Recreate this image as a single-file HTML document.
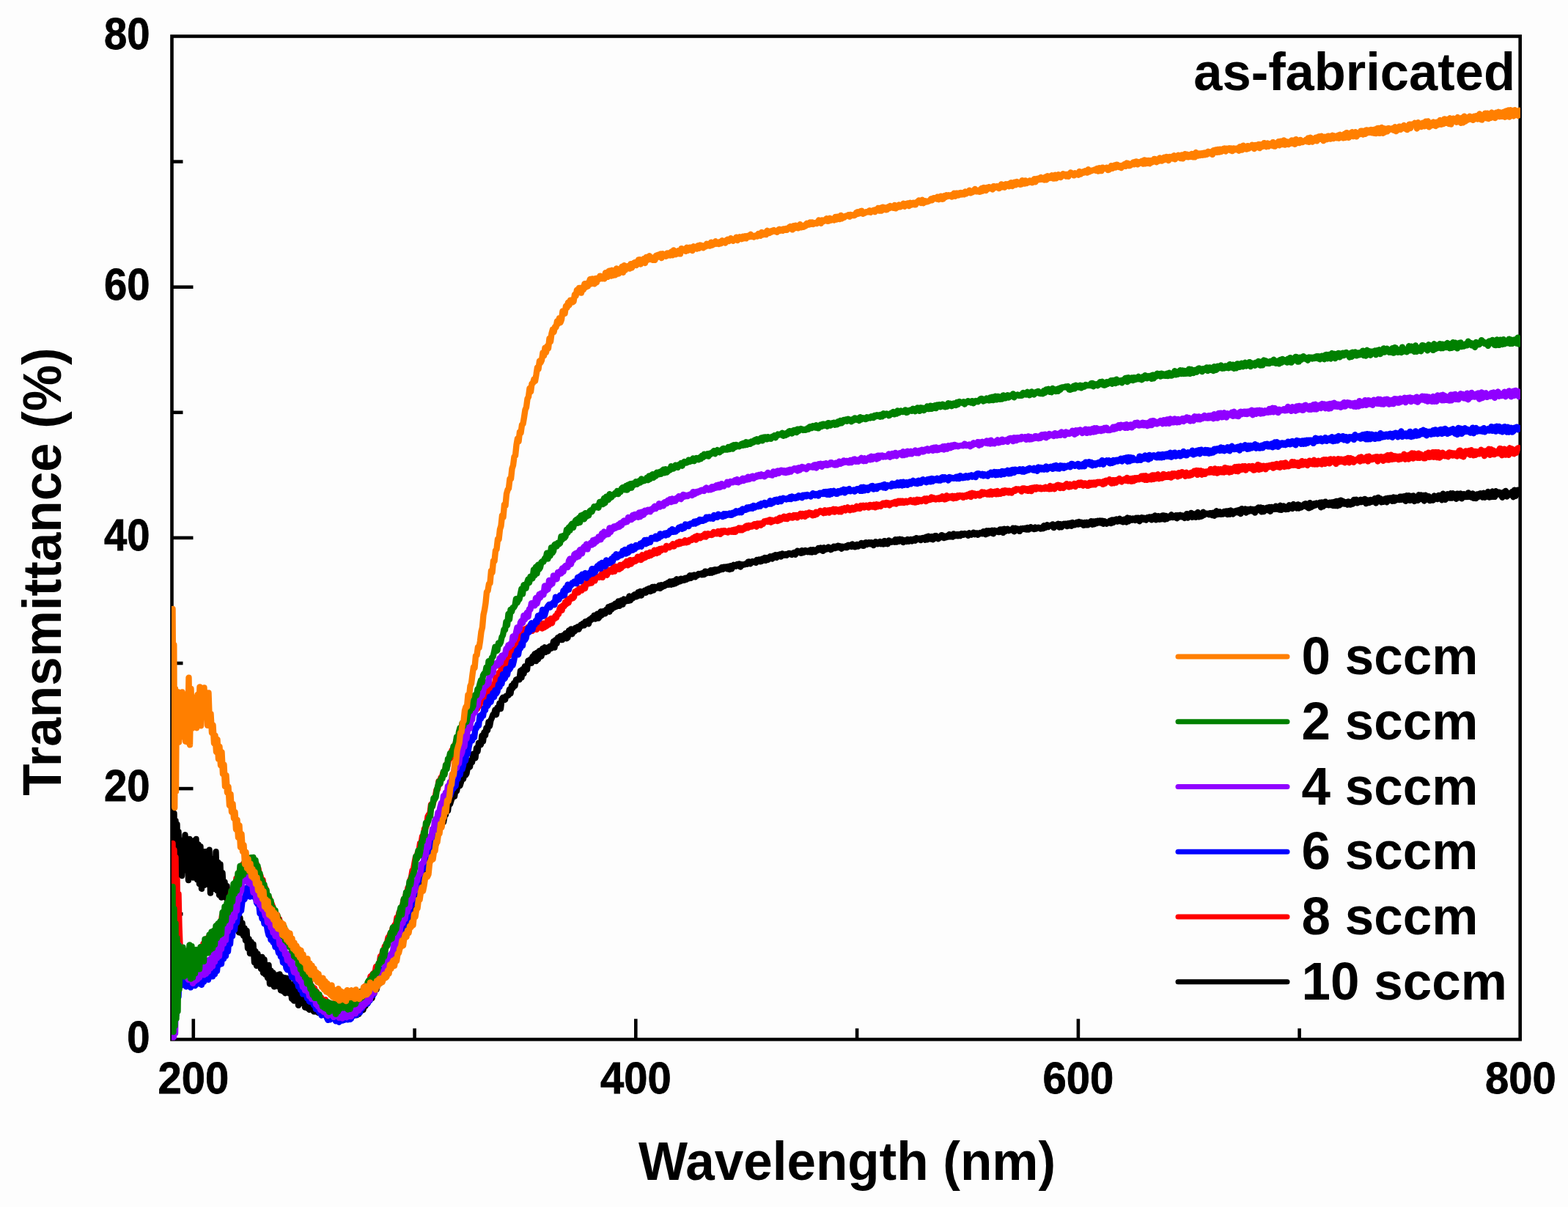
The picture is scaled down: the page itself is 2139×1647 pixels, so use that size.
<!DOCTYPE html>
<html><head><meta charset="utf-8"><style>
html,body{margin:0;padding:0;background:#fdfdfd;}
svg{display:block}
</style></head><body>
<svg width="2139" height="1647" viewBox="0 0 2139 1647">
<rect width="2139" height="1647" fill="#fdfdfd"/>
<g stroke="#000" stroke-width="4.6" fill="none">
<rect x="234.5" y="49.5" width="1839.2" height="1368.8" stroke-linejoin="miter"/>
<line x1="234.5" y1="1247.2" x2="249.5" y2="1247.2"/>
<line x1="234.5" y1="1076.1" x2="263.5" y2="1076.1"/>
<line x1="234.5" y1="905.0" x2="249.5" y2="905.0"/>
<line x1="234.5" y1="733.9" x2="263.5" y2="733.9"/>
<line x1="234.5" y1="562.8" x2="249.5" y2="562.8"/>
<line x1="234.5" y1="391.7" x2="263.5" y2="391.7"/>
<line x1="234.5" y1="220.6" x2="249.5" y2="220.6"/>
<line x1="263.8" y1="1418.3" x2="263.8" y2="1390.3"/>
<line x1="565.6" y1="1418.3" x2="565.6" y2="1403.3"/>
<line x1="867.3" y1="1418.3" x2="867.3" y2="1390.3"/>
<line x1="1169.1" y1="1418.3" x2="1169.1" y2="1403.3"/>
<line x1="1470.9" y1="1418.3" x2="1470.9" y2="1390.3"/>
<line x1="1772.6" y1="1418.3" x2="1772.6" y2="1403.3"/>
</g>
<defs><clipPath id="pc"><rect x="234" y="40" width="1840" height="1379.5"/></clipPath></defs>
<g clip-path="url(#pc)" fill="none" stroke-width="8.4" stroke-linejoin="round" stroke-linecap="round">
<path d="M234.8 1150.0L235.5 1095.0 236.5 1180.0 237.5 1110.0 238.5 1209.0 239.5 1120.0 240.5 1200.0 241.5 1125.0 242.5 1195.0 243.5 1135.0 244.5 1190.0 245.0 1186.7 246.5 1146.8 248.0 1195.0 249.5 1155.1 251.0 1187.0 252.5 1139.3 254.0 1185.6 255.5 1153.3 257.0 1201.1 258.5 1144.9 260.0 1191.4 261.5 1147.5 263.0 1197.5 264.5 1152.7 266.0 1189.4 267.5 1145.0 269.0 1200.5 270.5 1152.4 272.0 1206.3 273.5 1155.3 275.0 1212.8 276.5 1164.7 278.0 1208.1 279.5 1162.1 281.0 1206.5 282.5 1161.9 284.0 1206.0 285.5 1159.7 287.0 1218.6 288.5 1173.1 290.0 1213.1 291.5 1171.9 293.0 1207.7 294.5 1162.3 296.0 1215.1 297.5 1177.0 299.0 1221.4 300.5 1179.5 302.0 1224.6 303.5 1191.3 305.0 1216.3 306.5 1203.3 308.0 1225.0 309.5 1208.9 311.0 1237.2 312.5 1215.7 314.0 1241.4 315.5 1230.1 317.0 1248.2 318.5 1230.3 320.0 1257.5 321.5 1239.7 323.0 1260.8 324.5 1251.0 326.0 1272.4 327.5 1252.7 329.0 1273.4 330.5 1259.5 332.0 1276.7 333.5 1266.4 335.0 1283.4 336.5 1269.8 338.0 1294.1 339.5 1281.1 341.0 1301.1 342.5 1285.5 344.0 1301.5 345.5 1288.5 347.0 1313.3 348.5 1298.3 350.0 1317.7 351.5 1301.6 353.0 1316.7 354.5 1306.7 356.0 1322.1 357.5 1306.0 359.0 1327.5 360.5 1309.4 362.0 1329.8 363.5 1317.3 365.0 1334.2 366.5 1316.9 368.0 1342.6 369.5 1324.8 371.0 1342.2 372.5 1327.4 374.0 1346.3 375.5 1331.2 377.0 1343.5 378.5 1330.5 380.0 1346.3 381.5 1329.5 383.0 1351.4 384.5 1333.3 386.0 1352.6 387.5 1334.2 389.0 1355.2 390.5 1334.7 392.0 1353.2 393.5 1339.0 395.0 1355.7 396.5 1343.1 398.0 1362.7 399.5 1343.3 401.0 1365.6 402.5 1351.8 404.0 1365.8 405.5 1353.5 407.0 1371.9 408.5 1355.6 410.0 1368.9 411.5 1355.9 413.0 1369.3 414.5 1354.4 416.0 1374.5 417.5 1360.6 419.0 1375.5 420.5 1363.1 422.0 1377.8 423.5 1364.5 425.0 1376.1 426.5 1367.3 428.0 1380.3 429.5 1366.8 431.0 1380.4 432.5 1368.9 434.0 1381.8 435.5 1375.6 437.0 1381.5 438.5 1380.2 440.0 1375.1 441.5 1373.5 443.0 1381.6 444.5 1386.0 446.0 1378.1 447.5 1387.8 449.0 1377.1 450.5 1385.7 452.0 1381.8 453.5 1387.6 455.0 1382.7 456.5 1389.8 458.0 1381.4 459.5 1391.0 461.0 1380.6 462.5 1389.9 464.0 1382.2 465.5 1392.2 467.0 1383.2 468.5 1386.5 470.0 1380.2 471.5 1389.7 473.0 1390.2 474.5 1380.7 476.0 1389.7 477.5 1383.0 479.0 1379.5 480.5 1387.1 482.0 1379.5 483.5 1382.8 485.0 1375.9 486.5 1385.2 488.0 1373.8 489.5 1383.7 491.0 1376.3 492.5 1379.5 494.0 1370.1 495.5 1378.1 497.0 1369.5 498.5 1372.9 500.0 1365.0 501.5 1369.2 503.0 1363.8 504.5 1363.8 506.0 1358.8 507.5 1362.2 509.0 1352.4 510.5 1355.7 512.0 1345.7 513.5 1350.5 515.0 1340.7 516.5 1341.4 518.0 1342.0 519.5 1336.1 521.0 1336.0 522.5 1327.5 524.0 1329.7 525.5 1323.5 527.0 1318.5 528.5 1325.8 530.0 1320.6 531.5 1312.8 533.0 1315.8 534.5 1305.6 536.0 1301.5 537.5 1304.9 539.0 1305.7 540.5 1301.3 542.0 1292.1 543.5 1293.4 545.0 1285.8 546.5 1287.6 548.0 1275.3 549.5 1280.1 551.0 1267.7 552.5 1271.3 554.0 1261.3 555.5 1262.0 557.0 1253.9 558.5 1255.5 560.0 1253.2 561.5 1248.4 563.0 1236.1 564.5 1237.8 566.0 1226.0 567.5 1227.0 569.0 1217.5 570.5 1219.9 572.0 1211.5 573.5 1212.3 575.0 1199.1 576.5 1204.6 578.0 1194.8 579.5 1193.1 581.0 1185.8 582.5 1185.2 584.0 1173.4 585.5 1176.2 587.0 1169.9 588.5 1168.6 590.0 1161.1 591.5 1161.5 593.0 1147.3 594.5 1152.5 596.0 1142.0 597.5 1134.6 599.0 1129.8 600.5 1129.3 602.0 1128.2 603.5 1118.2 605.0 1121.9 606.5 1113.7 608.0 1111.8 609.5 1102.7 611.0 1106.4 612.5 1094.9 614.0 1097.2 615.5 1092.3 617.0 1088.3 618.5 1084.5 620.0 1086.8 621.5 1077.2 623.0 1079.5 624.5 1071.9 626.0 1068.7 627.5 1072.1 629.0 1067.1 630.5 1057.6 632.0 1063.0 633.5 1054.7 635.0 1057.8 636.5 1055.4 638.0 1046.5 639.5 1040.6 641.0 1046.6 642.5 1037.2 644.0 1040.3 645.5 1028.8 647.0 1029.0 648.5 1034.4 650.0 1020.8 651.5 1025.4 653.0 1014.0 654.5 1014.1 656.0 1016.1 657.5 1003.8 659.0 1011.5 660.5 999.2 662.0 1003.6 663.5 993.1 665.0 996.8 666.5 985.2 668.0 990.8 669.5 982.7 671.0 979.4 672.5 975.0 674.0 974.6 675.5 968.6 677.0 975.2 678.5 965.4 680.0 967.9 681.5 959.5 683.0 967.1 684.5 954.4 686.0 951.8 687.5 953.7 689.0 954.8 690.5 949.5 692.0 949.2 693.5 948.7 695.0 940.8 696.5 946.4 698.0 935.6 699.5 938.9 701.0 932.1 702.5 935.8 704.0 927.4 705.5 926.9 707.0 926.3 708.5 927.3 710.0 915.3 711.5 924.4 713.0 913.2 714.5 919.3 716.0 909.1 717.5 912.3 719.0 913.7 720.5 901.5 722.0 902.1 723.5 899.9 725.0 904.8 726.5 895.8 728.0 899.6 729.5 892.2 731.0 902.1 732.5 890.6 734.0 899.5 735.5 888.3 737.0 896.1 738.5 895.6 740.0 885.0 741.5 890.7 743.0 883.3 744.5 889.8 746.0 884.0 747.5 888.6 749.0 882.8 750.5 881.7 752.0 884.8 753.5 882.7 755.0 875.2 756.5 883.6 758.0 873.1 759.5 878.1 761.0 870.3 762.5 870.3 764.0 868.0 765.5 873.1 767.0 873.1 768.5 866.8 770.0 869.1 771.5 864.2 773.0 871.2 774.5 870.0 776.0 860.5 777.5 864.1 779.0 858.4 780.5 865.2 782.0 859.8 783.5 861.7 785.0 856.8 786.5 859.4 788.0 855.3 789.5 858.6 791.0 855.6 792.5 852.5 794.0 853.9 795.5 850.6 797.0 853.4 798.5 848.2 800.0 850.0 801.5 847.2 803.0 851.3 804.5 845.2 806.0 846.3 807.5 842.8 809.0 844.6 810.5 839.8 812.0 844.5 813.5 842.0 815.0 837.6 816.5 843.6 818.0 841.2 819.5 834.5 821.0 839.5 822.5 834.1 824.0 835.5 825.5 837.3 827.0 831.8 828.5 833.6 830.0 828.1 831.5 834.7 833.0 827.0 834.5 831.5 836.0 826.0 837.5 829.2 839.0 823.8 840.5 827.8 842.0 823.7 843.5 820.5 845.0 826.9 846.5 823.8 848.0 819.1 849.5 824.8 851.0 817.5 852.5 820.7 854.0 820.4 855.5 817.6 857.0 819.9 858.5 813.5 860.0 819.2 861.5 814.1 863.0 816.5 864.5 812.3 866.0 811.1 867.5 814.3 869.0 814.0 870.5 808.2 872.0 812.6 873.5 807.0 875.0 812.5 876.5 807.3 878.0 807.3 879.5 805.8 881.0 808.8 882.5 804.3 884.0 806.5 885.5 802.9 887.0 806.9 888.5 806.5 890.0 800.9 891.5 805.4 893.0 800.8 894.5 803.0 896.0 801.3 897.5 802.3 899.0 798.8 900.5 802.9 902.0 798.3 903.5 800.8 905.0 798.3 906.5 799.7 908.0 796.7 909.5 798.3 911.0 795.2 912.5 797.7 914.0 793.4 915.5 797.8 917.0 793.2 918.5 797.0 920.0 792.4 921.5 796.2 923.0 790.3 924.5 794.5 926.0 790.8 927.5 793.3 929.0 789.6 930.5 792.2 932.0 789.9 933.5 791.8 935.0 788.8 936.5 790.7 938.0 788.1 939.5 789.4 941.0 785.3 942.5 788.9 944.0 785.3 945.5 787.2 947.0 784.4 948.5 787.2 950.0 784.7 951.5 785.3 953.0 783.0 954.5 783.8 956.0 782.8 957.5 784.3 959.0 781.8 960.5 784.1 962.0 779.6 963.5 782.4 965.0 780.2 966.5 780.1 968.0 781.8 969.5 778.1 971.0 781.6 972.5 778.0 974.0 780.5 975.5 777.1 977.0 779.5 978.5 777.3 980.0 778.4 981.5 776.4 983.0 777.4 984.5 774.1 986.0 776.9 987.5 773.7 989.0 774.0 990.5 773.5 992.0 776.2 993.5 773.0 995.0 777.0 996.5 772.1 998.0 776.4 999.5 773.8 1001.0 770.9 1002.5 771.4 1004.0 772.7 1005.5 770.0 1007.0 771.0 1008.5 769.4 1010.0 773.5 1011.5 770.1 1013.0 771.0 1014.5 770.2 1016.0 770.3 1017.5 769.2 1019.0 769.8 1020.5 766.7 1022.0 766.5 1023.5 769.3 1025.0 767.1 1026.5 766.1 1028.0 767.0 1029.5 766.1 1031.0 767.9 1032.5 763.9 1034.0 766.2 1035.5 763.5 1037.0 766.2 1038.5 766.1 1040.0 762.4 1041.5 764.7 1043.0 761.0 1044.5 764.9 1046.0 761.1 1047.5 763.9 1049.0 761.9 1050.5 759.2 1052.0 761.4 1053.5 762.5 1055.0 758.6 1056.5 759.1 1058.0 757.1 1059.5 760.8 1061.0 757.3 1062.5 758.9 1064.0 756.4 1065.5 759.5 1067.0 755.5 1068.5 757.5 1070.0 757.7 1071.5 756.4 1073.0 757.8 1074.5 755.7 1076.0 755.0 1077.5 755.1 1079.0 756.4 1080.5 756.9 1082.0 754.8 1083.5 753.9 1085.0 756.7 1086.5 754.3 1088.0 751.6 1089.5 752.8 1091.0 753.6 1092.5 754.9 1094.0 751.1 1095.5 754.2 1097.0 753.6 1098.5 751.0 1100.0 751.9 1101.5 753.2 1103.0 751.3 1104.5 753.3 1106.0 750.3 1107.5 753.6 1109.0 750.2 1110.5 750.5 1112.0 753.1 1113.5 750.2 1115.0 751.3 1116.5 748.0 1118.0 750.4 1119.5 747.4 1121.0 750.6 1122.5 751.9 1124.0 747.2 1125.5 750.0 1127.0 748.3 1128.5 749.2 1130.0 746.4 1131.5 748.1 1133.0 750.1 1134.5 749.5 1136.0 747.2 1137.5 745.6 1139.0 748.1 1140.5 745.7 1142.0 747.2 1143.5 744.6 1145.0 747.2 1146.5 745.5 1148.0 748.7 1149.5 745.8 1151.0 746.1 1152.5 747.0 1154.0 745.1 1155.5 747.2 1157.0 743.8 1158.5 745.4 1160.0 743.6 1161.5 746.0 1163.0 742.5 1164.5 745.0 1166.0 746.4 1167.5 746.0 1169.0 742.9 1170.5 745.5 1172.0 744.5 1173.5 743.7 1175.0 741.0 1176.5 744.6 1178.0 744.8 1179.5 741.1 1181.0 740.3 1182.5 743.0 1184.0 742.1 1185.5 740.1 1187.0 742.3 1188.5 740.2 1190.0 740.6 1191.5 744.1 1193.0 741.8 1194.5 739.3 1196.0 740.1 1197.5 742.3 1199.0 739.9 1200.5 739.0 1202.0 742.3 1203.5 740.3 1205.0 742.5 1206.5 738.1 1208.0 742.0 1209.5 741.7 1211.0 742.2 1212.5 737.4 1214.0 739.5 1215.5 739.9 1217.0 738.7 1218.5 739.0 1220.0 739.6 1221.5 736.3 1223.0 739.6 1224.5 736.1 1226.0 738.9 1227.5 735.8 1229.0 738.1 1230.5 736.2 1232.0 740.0 1233.5 737.1 1235.0 738.3 1236.5 738.9 1238.0 736.0 1239.5 738.8 1241.0 737.0 1242.5 736.0 1244.0 738.5 1245.5 737.1 1247.0 735.4 1248.5 737.7 1250.0 734.1 1251.5 736.2 1253.0 735.1 1254.5 734.7 1256.0 737.1 1257.5 734.6 1259.0 734.1 1260.5 733.7 1262.0 736.7 1263.5 732.6 1265.0 736.4 1266.5 731.8 1268.0 735.1 1269.5 735.4 1271.0 732.1 1272.5 736.3 1274.0 735.3 1275.5 731.3 1277.0 731.2 1278.5 732.9 1280.0 735.3 1281.5 732.7 1283.0 733.4 1284.5 730.1 1286.0 730.8 1287.5 734.1 1289.0 731.8 1290.5 733.3 1292.0 731.0 1293.5 732.6 1295.0 729.1 1296.5 732.4 1298.0 730.6 1299.5 732.6 1301.0 728.4 1302.5 731.2 1304.0 731.1 1305.5 729.2 1307.0 731.4 1308.5 729.2 1310.0 731.2 1311.5 728.1 1313.0 729.9 1314.5 729.8 1316.0 728.0 1317.5 728.8 1319.0 728.8 1320.5 730.8 1322.0 727.3 1323.5 729.1 1325.0 729.7 1326.5 728.5 1328.0 726.6 1329.5 729.2 1331.0 728.9 1332.5 727.5 1334.0 729.8 1335.5 728.8 1337.0 727.1 1338.5 727.8 1340.0 728.2 1341.5 725.3 1343.0 726.9 1344.5 729.2 1346.0 724.3 1347.5 728.2 1349.0 724.3 1350.5 726.5 1352.0 727.1 1353.5 723.8 1355.0 728.3 1356.5 723.8 1358.0 725.7 1359.5 724.5 1361.0 725.7 1362.5 726.1 1364.0 722.4 1365.5 722.6 1367.0 722.5 1368.5 726.9 1370.0 721.8 1371.5 725.0 1373.0 722.8 1374.5 721.6 1376.0 724.2 1377.5 723.3 1379.0 723.4 1380.5 722.8 1382.0 720.6 1383.5 725.2 1385.0 720.8 1386.5 723.8 1388.0 721.5 1389.5 723.9 1391.0 724.9 1392.5 721.3 1394.0 722.4 1395.5 721.1 1397.0 721.9 1398.5 720.7 1400.0 722.6 1401.5 720.0 1403.0 722.6 1404.5 720.9 1406.0 719.2 1407.5 721.3 1409.0 721.3 1410.5 722.0 1412.0 719.5 1413.5 721.5 1415.0 720.1 1416.5 719.7 1418.0 720.1 1419.5 721.6 1421.0 721.0 1422.5 721.2 1424.0 717.3 1425.5 720.2 1427.0 719.4 1428.5 716.3 1430.0 719.0 1431.5 717.6 1433.0 716.9 1434.5 716.8 1436.0 715.4 1437.5 720.1 1439.0 717.4 1440.5 717.7 1442.0 715.7 1443.5 714.8 1445.0 719.6 1446.5 715.3 1448.0 719.3 1449.5 716.8 1451.0 714.8 1452.5 716.9 1454.0 714.6 1455.5 718.1 1457.0 714.3 1458.5 717.3 1460.0 713.8 1461.5 717.8 1463.0 713.0 1464.5 715.3 1466.0 716.4 1467.5 713.8 1469.0 712.8 1470.5 715.5 1472.0 712.0 1473.5 715.0 1475.0 712.8 1476.5 713.9 1478.0 716.7 1479.5 713.0 1481.0 716.4 1482.5 712.8 1484.0 716.3 1485.5 714.7 1487.0 712.4 1488.5 711.1 1490.0 715.8 1491.5 711.5 1493.0 715.2 1494.5 711.3 1496.0 714.0 1497.5 710.8 1499.0 713.3 1500.5 710.5 1502.0 713.5 1503.5 710.6 1505.0 714.8 1506.5 711.1 1508.0 712.2 1509.5 714.7 1511.0 713.5 1512.5 712.7 1514.0 710.6 1515.5 714.1 1517.0 709.4 1518.5 713.1 1520.0 709.4 1521.5 711.4 1523.0 708.5 1524.5 711.6 1526.0 711.1 1527.5 707.8 1529.0 711.3 1530.5 711.5 1532.0 712.4 1533.5 708.9 1535.0 708.5 1536.5 712.5 1538.0 706.5 1539.5 711.4 1541.0 707.2 1542.5 707.8 1544.0 709.7 1545.5 707.5 1547.0 708.3 1548.5 710.1 1550.0 706.8 1551.5 709.4 1553.0 706.6 1554.5 711.3 1556.0 707.4 1557.5 706.1 1559.0 708.9 1560.5 706.8 1562.0 709.0 1563.5 709.6 1565.0 706.1 1566.5 707.9 1568.0 705.5 1569.5 705.6 1571.0 709.3 1572.5 705.0 1574.0 707.6 1575.5 703.5 1577.0 709.4 1578.5 705.9 1580.0 704.1 1581.5 708.9 1583.0 704.6 1584.5 708.4 1586.0 703.5 1587.5 703.5 1589.0 708.8 1590.5 703.9 1592.0 708.0 1593.5 704.8 1595.0 706.3 1596.5 706.1 1598.0 702.3 1599.5 706.0 1601.0 704.3 1602.5 705.9 1604.0 703.2 1605.5 707.2 1607.0 703.1 1608.5 705.5 1610.0 702.8 1611.5 705.2 1613.0 703.5 1614.5 705.6 1616.0 706.9 1617.5 705.4 1619.0 701.1 1620.5 706.6 1622.0 701.5 1623.5 704.0 1625.0 699.9 1626.5 705.8 1628.0 703.6 1629.5 701.4 1631.0 705.8 1632.5 705.0 1634.0 699.0 1635.5 705.4 1637.0 701.6 1638.5 704.8 1640.0 704.0 1641.5 698.7 1643.0 702.5 1644.5 700.5 1646.0 700.8 1647.5 700.9 1649.0 702.2 1650.5 700.1 1652.0 700.1 1653.5 703.0 1655.0 699.7 1656.5 703.8 1658.0 700.0 1659.5 697.3 1661.0 702.0 1662.5 701.7 1664.0 698.3 1665.5 701.9 1667.0 700.3 1668.5 701.6 1670.0 697.9 1671.5 700.8 1673.0 697.5 1674.5 702.1 1676.0 697.3 1677.5 701.8 1679.0 696.5 1680.5 700.4 1682.0 701.5 1683.5 697.7 1685.0 699.5 1686.5 696.9 1688.0 696.6 1689.5 699.5 1691.0 695.7 1692.5 701.0 1694.0 694.1 1695.5 695.5 1697.0 698.3 1698.5 694.5 1700.0 699.5 1701.5 695.1 1703.0 698.1 1704.5 695.4 1706.0 694.5 1707.5 697.3 1709.0 694.9 1710.5 698.0 1712.0 699.6 1713.5 694.5 1715.0 696.5 1716.5 692.5 1718.0 696.2 1719.5 692.5 1721.0 698.4 1722.5 693.1 1724.0 698.0 1725.5 693.7 1727.0 695.5 1728.5 692.8 1730.0 696.3 1731.5 691.9 1733.0 697.8 1734.5 691.9 1736.0 695.0 1737.5 692.9 1739.0 694.8 1740.5 690.6 1742.0 694.7 1743.5 692.9 1745.0 695.5 1746.5 689.8 1748.0 695.9 1749.5 691.3 1751.0 690.4 1752.5 691.4 1754.0 695.1 1755.5 691.8 1757.0 694.9 1758.5 689.3 1760.0 693.3 1761.5 689.5 1763.0 694.1 1764.5 688.0 1766.0 692.6 1767.5 690.3 1769.0 693.5 1770.5 688.4 1772.0 693.5 1773.5 689.5 1775.0 692.5 1776.5 689.8 1778.0 690.9 1779.5 687.7 1781.0 687.3 1782.5 691.4 1784.0 692.4 1785.5 693.4 1787.0 686.1 1788.5 692.2 1790.0 688.8 1791.5 690.5 1793.0 687.3 1794.5 689.6 1796.0 686.5 1797.5 687.2 1799.0 688.3 1800.5 685.7 1802.0 692.3 1803.5 685.5 1805.0 691.1 1806.5 689.0 1808.0 684.6 1809.5 688.9 1811.0 687.0 1812.5 689.3 1814.0 685.6 1815.5 689.1 1817.0 685.4 1818.5 690.0 1820.0 684.9 1821.5 690.1 1823.0 683.9 1824.5 690.3 1826.0 683.7 1827.5 689.4 1829.0 682.6 1830.5 687.4 1832.0 683.8 1833.5 687.5 1835.0 687.5 1836.5 685.1 1838.0 688.7 1839.5 684.4 1841.0 688.3 1842.5 688.6 1844.0 684.7 1845.5 687.5 1847.0 681.9 1848.5 685.9 1850.0 681.8 1851.5 686.4 1853.0 684.2 1854.5 685.2 1856.0 681.8 1857.5 685.0 1859.0 682.0 1860.5 684.7 1862.0 680.9 1863.5 687.1 1865.0 682.5 1866.5 682.7 1868.0 686.0 1869.5 682.0 1871.0 684.8 1872.5 683.0 1874.0 684.0 1875.5 680.1 1877.0 686.5 1878.5 684.2 1880.0 678.9 1881.5 683.6 1883.0 680.3 1884.5 685.3 1886.0 681.6 1887.5 684.7 1889.0 680.9 1890.5 680.3 1892.0 685.2 1893.5 679.8 1895.0 682.9 1896.5 679.4 1898.0 681.4 1899.5 683.8 1901.0 678.5 1902.5 683.5 1904.0 678.9 1905.5 682.0 1907.0 679.4 1908.5 682.0 1910.0 677.6 1911.5 681.7 1913.0 677.6 1914.5 681.8 1916.0 677.1 1917.5 683.8 1919.0 676.3 1920.5 682.3 1922.0 676.3 1923.5 682.9 1925.0 677.0 1926.5 682.4 1928.0 676.4 1929.5 684.0 1931.0 682.4 1932.5 678.5 1934.0 682.9 1935.5 675.3 1937.0 681.3 1938.5 675.5 1940.0 680.3 1941.5 676.0 1943.0 683.6 1944.5 675.6 1946.0 681.7 1947.5 680.2 1949.0 677.2 1950.5 683.1 1952.0 682.2 1953.5 680.6 1955.0 682.7 1956.5 676.5 1958.0 679.6 1959.5 680.3 1961.0 681.1 1962.5 675.9 1964.0 679.8 1965.5 677.1 1967.0 682.2 1968.5 673.7 1970.0 679.3 1971.5 681.9 1973.0 679.9 1974.5 674.3 1976.0 675.5 1977.5 679.5 1979.0 673.3 1980.5 679.6 1982.0 673.3 1983.5 678.9 1985.0 675.1 1986.5 680.7 1988.0 673.8 1989.5 673.9 1991.0 679.1 1992.5 673.5 1994.0 680.3 1995.5 674.8 1997.0 674.2 1998.5 678.0 2000.0 674.9 2001.5 678.0 2003.0 672.4 2004.5 677.9 2006.0 674.5 2007.5 678.7 2009.0 673.5 2010.5 679.8 2012.0 678.5 2013.5 680.0 2015.0 674.4 2016.5 678.1 2018.0 673.7 2019.5 673.3 2021.0 673.5 2022.5 678.5 2024.0 672.8 2025.5 678.7 2027.0 677.8 2028.5 676.5 2030.0 671.0 2031.5 678.6 2033.0 677.6 2034.5 678.1 2036.0 670.5 2037.5 677.9 2039.0 677.9 2040.5 670.2 2042.0 674.9 2043.5 671.6 2045.0 671.7 2046.5 672.3 2048.0 676.3 2049.5 678.7 2051.0 671.7 2052.5 676.2 2054.0 669.9 2055.5 677.6 2057.0 674.6 2058.5 672.9 2060.0 675.3 2061.5 674.1 2063.0 670.9 2064.5 678.2 2066.0 668.7 2067.5 676.9 2069.0 669.6 2070.5 668.6 2072.0 673.9" stroke="#000000"/>
<path d="M234.8 1200.0L235.5 1151.0 236.5 1230.0 237.5 1160.0 238.5 1250.0 239.5 1170.0 240.5 1264.0 241.5 1200.0 242.5 1264.0 243.5 1220.0 244.5 1264.0 245.5 1290.0 246.0 1322.0 247.5 1304.0 249.0 1327.6 250.5 1304.3 252.0 1320.9 253.5 1306.8 255.0 1322.5 256.5 1301.7 258.0 1323.0 259.5 1300.9 261.0 1319.2 262.5 1299.1 264.0 1317.9 265.5 1298.9 267.0 1312.2 268.5 1298.1 270.0 1309.9 271.5 1297.1 273.0 1307.8 274.5 1291.9 276.0 1302.6 277.5 1287.5 279.0 1299.8 280.5 1285.9 282.0 1297.9 283.5 1279.8 285.0 1290.7 286.5 1278.9 288.0 1287.3 289.5 1272.3 291.0 1281.8 292.5 1273.6 294.0 1279.3 295.5 1263.2 297.0 1271.9 298.5 1262.0 300.0 1261.5 301.5 1260.9 303.0 1249.1 304.5 1254.4 306.0 1252.1 307.5 1246.7 309.0 1238.3 310.5 1238.4 312.0 1227.6 313.5 1232.8 315.0 1218.8 316.5 1214.5 318.0 1220.7 319.5 1209.3 321.0 1210.2 322.5 1198.2 324.0 1201.6 325.5 1200.1 327.0 1186.9 328.5 1189.9 330.0 1189.2 331.5 1179.0 333.0 1184.6 334.5 1178.3 336.0 1175.8 337.5 1181.5 339.0 1174.1 340.5 1175.1 342.0 1177.2 343.5 1179.8 345.0 1178.1 346.5 1173.7 348.0 1181.1 349.5 1177.9 351.0 1186.4 352.5 1185.4 354.0 1196.1 355.5 1195.1 357.0 1203.5 358.5 1200.5 360.0 1211.5 361.5 1210.7 363.0 1214.3 364.5 1223.5 366.0 1226.2 367.5 1225.5 369.0 1234.2 370.5 1232.8 372.0 1237.1 373.5 1246.5 375.0 1242.7 376.5 1252.6 378.0 1247.9 379.5 1255.2 381.0 1254.1 382.5 1264.0 384.0 1260.2 385.5 1267.3 387.0 1266.2 388.5 1269.4 390.0 1279.1 391.5 1275.4 393.0 1279.6 394.5 1284.2 396.0 1285.0 397.5 1289.9 399.0 1289.0 400.5 1296.8 402.0 1293.4 403.5 1301.4 405.0 1298.4 406.5 1307.6 408.0 1305.4 409.5 1314.3 411.0 1312.4 412.5 1320.0 414.0 1324.2 415.5 1323.5 417.0 1328.7 418.5 1335.5 420.0 1334.4 421.5 1341.9 423.0 1340.4 424.5 1347.6 426.0 1346.4 427.5 1352.2 429.0 1348.5 430.5 1355.2 432.0 1353.2 433.5 1361.0 435.0 1358.1 436.5 1363.0 438.0 1361.0 439.5 1367.0 441.0 1364.2 442.5 1367.7 444.0 1364.1 445.5 1371.0 447.0 1368.7 448.5 1373.1 450.0 1368.7 451.5 1373.1 453.0 1370.9 454.5 1376.0 456.0 1369.0 457.5 1376.7 459.0 1373.4 460.5 1371.5 462.0 1376.3 463.5 1369.8 465.0 1373.3 466.5 1370.4 468.0 1374.5 469.5 1368.6 471.0 1372.4 472.5 1371.9 474.0 1369.1 475.5 1370.0 477.0 1371.5 478.5 1366.3 480.0 1370.8 481.5 1369.9 483.0 1363.8 484.5 1366.7 486.0 1362.0 487.5 1361.8 489.0 1356.1 490.5 1360.9 492.0 1353.0 493.5 1356.7 495.0 1351.1 496.5 1350.3 498.0 1345.7 499.5 1348.0 501.0 1345.5 502.5 1343.5 504.0 1340.7 505.5 1332.3 507.0 1334.8 508.5 1329.2 510.0 1327.6 511.5 1327.0 513.0 1319.0 514.5 1322.7 516.0 1316.6 517.5 1315.1 519.0 1304.9 520.5 1306.0 522.0 1298.5 523.5 1298.4 525.0 1290.9 526.5 1293.1 528.0 1286.8 529.5 1279.4 531.0 1277.7 532.5 1273.9 534.0 1275.4 535.5 1266.8 537.0 1269.9 538.5 1262.1 540.0 1261.1 541.5 1251.9 543.0 1252.5 544.5 1245.1 546.0 1246.6 547.5 1238.1 549.0 1236.7 550.5 1227.9 552.0 1231.1 553.5 1221.3 555.0 1220.4 556.5 1211.4 558.0 1209.3 559.5 1201.0 561.0 1197.1 562.5 1187.9 564.0 1186.5 565.5 1177.3 567.0 1169.5 568.5 1169.2 570.0 1163.0 571.5 1161.4 573.0 1150.8 574.5 1150.9 576.0 1141.2 577.5 1142.1 579.0 1130.9 580.5 1129.7 582.0 1126.4 583.5 1114.3 585.0 1111.5 586.5 1110.0 588.0 1097.8 589.5 1100.8 591.0 1095.4 592.5 1090.0 594.0 1086.0 595.5 1077.4 597.0 1077.1 598.5 1065.9 600.0 1070.0 601.5 1060.9 603.0 1059.9 604.5 1054.4 606.0 1055.9 607.5 1049.3 609.0 1043.0 610.5 1045.0 612.0 1036.2 613.5 1035.5 615.0 1034.1 616.5 1023.7 618.0 1026.4 619.5 1017.4 621.0 1016.3 622.5 1010.6 624.0 1016.3 625.5 1005.7 627.0 1008.0 628.5 1002.9 630.0 1003.0 631.5 994.2 633.0 991.3 634.5 990.3 636.0 992.5 637.5 982.4 639.0 985.4 640.5 977.4 642.0 977.6 643.5 976.9 645.0 971.0 646.5 972.2 648.0 965.3 649.5 964.6 651.0 967.2 652.5 958.9 654.0 963.3 655.5 955.5 657.0 958.0 658.5 952.7 660.0 956.9 661.5 947.7 663.0 953.1 664.5 944.4 666.0 941.3 667.5 946.2 669.0 946.1 670.5 935.7 672.0 937.9 673.5 933.9 675.0 933.2 676.5 924.5 678.0 925.0 679.5 926.1 681.0 917.7 682.5 920.7 684.0 911.1 685.5 912.5 687.0 906.1 688.5 910.1 690.0 907.0 691.5 899.7 693.0 893.2 694.5 894.6 696.0 889.1 697.5 890.3 699.0 881.4 700.5 884.0 702.0 882.2 703.5 874.3 705.0 877.9 706.5 875.2 708.0 867.2 709.5 871.3 711.0 864.1 712.5 866.2 714.0 863.8 715.5 858.4 717.0 864.1 718.5 858.6 720.0 856.1 721.5 857.2 723.0 854.6 724.5 859.8 726.0 860.8 727.5 854.7 729.0 858.6 730.5 854.5 732.0 859.0 733.5 856.2 735.0 853.5 736.5 856.0 738.0 853.2 739.5 857.6 741.0 850.6 742.5 856.3 744.0 851.2 745.5 854.5 747.0 846.4 748.5 852.5 750.0 848.3 751.5 843.9 753.0 850.4 754.5 843.7 756.0 844.9 757.5 840.5 759.0 842.7 760.5 836.7 762.0 838.0 763.5 830.5 765.0 828.1 766.5 832.7 768.0 826.1 769.5 827.5 771.0 821.7 772.5 824.3 774.0 817.9 775.5 822.6 777.0 816.7 778.5 817.5 780.0 814.2 781.5 816.4 783.0 814.6 784.5 807.3 786.0 808.8 787.5 805.3 789.0 808.5 790.5 802.8 792.0 803.7 793.5 805.6 795.0 802.2 796.5 799.7 798.0 803.0 799.5 796.5 801.0 794.0 802.5 795.2 804.0 796.2 805.5 791.2 807.0 795.6 808.5 788.3 810.0 792.0 811.5 792.3 813.0 787.1 814.5 787.1 816.0 787.2 817.5 787.7 819.0 786.5 820.5 783.5 822.0 787.9 823.5 781.5 825.0 784.0 826.5 780.4 828.0 784.7 829.5 777.5 831.0 780.9 832.5 778.8 834.0 777.3 835.5 780.3 837.0 773.6 838.5 779.6 840.0 773.0 841.5 776.7 843.0 773.4 844.5 776.9 846.0 770.9 847.5 775.1 849.0 770.8 850.5 772.4 852.0 768.5 853.5 768.1 855.0 765.9 856.5 771.4 858.0 768.9 859.5 764.1 861.0 769.5 862.5 764.5 864.0 766.7 865.5 763.7 867.0 765.7 868.5 762.8 870.0 759.6 871.5 763.6 873.0 760.8 874.5 764.0 876.0 757.3 877.5 761.8 879.0 757.4 880.5 760.7 882.0 755.2 883.5 758.2 885.0 758.6 886.5 753.7 888.0 757.9 889.5 753.9 891.0 756.1 892.5 750.8 894.0 754.6 895.5 754.9 897.0 750.1 898.5 753.9 900.0 749.0 901.5 751.5 903.0 748.5 904.5 749.4 906.0 748.3 907.5 750.0 909.0 744.9 910.5 747.2 912.0 746.2 913.5 746.9 915.0 744.8 916.5 745.3 918.0 742.2 919.5 745.5 921.0 743.0 922.5 743.0 924.0 740.4 925.5 742.5 927.0 739.1 928.5 741.7 930.0 739.6 931.5 739.3 933.0 740.5 934.5 737.3 936.0 740.4 937.5 739.2 939.0 739.5 940.5 736.6 942.0 736.7 943.5 737.0 945.0 734.2 946.5 735.2 948.0 732.5 949.5 736.6 951.0 731.3 952.5 734.5 954.0 731.7 955.5 734.2 957.0 732.9 958.5 730.8 960.0 732.4 961.5 728.5 963.0 732.5 964.5 730.3 966.0 728.1 967.5 729.8 969.0 728.8 970.5 730.1 972.0 729.5 973.5 725.9 975.0 728.3 976.5 726.8 978.0 728.4 979.5 725.0 981.0 725.4 982.5 728.8 984.0 724.4 985.5 726.7 987.0 724.1 988.5 724.1 990.0 725.8 991.5 725.9 993.0 726.4 994.5 724.0 996.0 725.0 997.5 725.6 999.0 723.4 1000.5 725.9 1002.0 722.6 1003.5 725.8 1005.0 722.0 1006.5 722.9 1008.0 720.4 1009.5 723.4 1011.0 720.6 1012.5 723.4 1014.0 720.4 1015.5 721.7 1017.0 718.4 1018.5 717.5 1020.0 720.4 1021.5 717.0 1023.0 719.0 1024.5 717.4 1026.0 718.3 1027.5 716.4 1029.0 715.2 1030.5 715.3 1032.0 718.7 1033.5 714.4 1035.0 715.8 1036.5 714.4 1038.0 716.8 1039.5 714.1 1041.0 714.7 1042.5 711.4 1044.0 711.1 1045.5 710.7 1047.0 711.8 1048.5 710.0 1050.0 709.3 1051.5 712.7 1053.0 709.8 1054.5 711.3 1056.0 710.8 1057.5 710.1 1059.0 708.7 1060.5 710.9 1062.0 710.5 1063.5 706.5 1065.0 709.3 1066.5 706.5 1068.0 707.7 1069.5 704.8 1071.0 707.7 1072.5 705.4 1074.0 708.1 1075.5 704.2 1077.0 703.8 1078.5 706.2 1080.0 704.3 1081.5 706.6 1083.0 703.0 1084.5 704.7 1086.0 702.9 1087.5 706.4 1089.0 704.1 1090.5 702.5 1092.0 700.9 1093.5 704.7 1095.0 701.2 1096.5 701.8 1098.0 704.9 1099.5 700.4 1101.0 703.0 1102.5 702.1 1104.0 699.4 1105.5 702.0 1107.0 700.1 1108.5 703.4 1110.0 700.7 1111.5 702.8 1113.0 698.7 1114.5 701.5 1116.0 699.2 1117.5 699.1 1119.0 697.0 1120.5 698.3 1122.0 698.5 1123.5 700.2 1125.0 696.2 1126.5 699.7 1128.0 697.6 1129.5 696.4 1131.0 699.6 1132.5 696.0 1134.0 697.5 1135.5 698.0 1137.0 694.8 1138.5 698.6 1140.0 695.0 1141.5 697.1 1143.0 696.0 1144.5 698.3 1146.0 695.0 1147.5 698.4 1149.0 694.1 1150.5 695.9 1152.0 693.3 1153.5 696.5 1155.0 694.9 1156.5 692.5 1158.0 693.4 1159.5 696.1 1161.0 695.4 1162.5 692.7 1164.0 695.4 1165.5 695.1 1167.0 694.6 1168.5 690.8 1170.0 693.8 1171.5 692.5 1173.0 694.0 1174.5 689.9 1176.0 692.3 1177.5 689.7 1179.0 692.6 1180.5 690.0 1182.0 689.7 1183.5 690.5 1185.0 692.6 1186.5 689.0 1188.0 689.2 1189.5 691.6 1191.0 691.3 1192.5 688.6 1194.0 692.3 1195.5 688.2 1197.0 691.4 1198.5 688.6 1200.0 689.6 1201.5 691.0 1203.0 687.9 1204.5 686.7 1206.0 686.6 1207.5 689.0 1209.0 685.9 1210.5 688.5 1212.0 686.4 1213.5 689.5 1215.0 686.7 1216.5 687.5 1218.0 686.0 1219.5 686.9 1221.0 684.8 1222.5 687.6 1224.0 685.8 1225.5 683.7 1227.0 686.1 1228.5 683.6 1230.0 685.9 1231.5 683.7 1233.0 686.0 1234.5 685.2 1236.0 683.6 1237.5 685.3 1239.0 684.2 1240.5 684.5 1242.0 682.3 1243.5 684.4 1245.0 684.9 1246.5 682.5 1248.0 685.6 1249.5 685.3 1251.0 681.6 1252.5 684.7 1254.0 682.0 1255.5 683.2 1257.0 684.0 1258.5 682.0 1260.0 682.6 1261.5 680.5 1263.0 684.1 1264.5 680.3 1266.0 682.5 1267.5 681.0 1269.0 682.0 1270.5 678.4 1272.0 681.0 1273.5 679.3 1275.0 680.0 1276.5 681.6 1278.0 679.8 1279.5 679.6 1281.0 681.3 1282.5 678.8 1284.0 680.9 1285.5 677.3 1287.0 677.9 1288.5 681.5 1290.0 681.2 1291.5 676.3 1293.0 679.9 1294.5 678.0 1296.0 677.5 1297.5 679.2 1299.0 676.8 1300.5 680.2 1302.0 676.9 1303.5 679.6 1305.0 679.5 1306.5 676.3 1308.0 678.0 1309.5 676.1 1311.0 677.0 1312.5 676.3 1314.0 678.9 1315.5 676.6 1317.0 676.1 1318.5 677.7 1320.0 675.1 1321.5 675.8 1323.0 673.5 1324.5 678.1 1326.0 672.8 1327.5 674.0 1329.0 673.5 1330.5 676.6 1332.0 674.3 1333.5 674.0 1335.0 673.8 1336.5 676.4 1338.0 675.2 1339.5 671.4 1341.0 674.5 1342.5 671.8 1344.0 673.8 1345.5 672.6 1347.0 674.7 1348.5 671.6 1350.0 674.8 1351.5 670.5 1353.0 674.7 1354.5 671.3 1356.0 673.8 1357.5 670.7 1359.0 674.3 1360.5 669.9 1362.0 674.1 1363.5 671.9 1365.0 673.7 1366.5 670.9 1368.0 669.6 1369.5 672.8 1371.0 669.1 1372.5 671.6 1374.0 669.7 1375.5 672.3 1377.0 669.6 1378.5 671.2 1380.0 672.6 1381.5 670.2 1383.0 668.8 1384.5 669.8 1386.0 667.3 1387.5 668.2 1389.0 667.4 1390.5 668.0 1392.0 668.7 1393.5 670.6 1395.0 666.4 1396.5 666.4 1398.0 666.7 1399.5 669.2 1401.0 667.1 1402.5 669.9 1404.0 667.2 1405.5 666.3 1407.0 670.1 1408.5 665.6 1410.0 667.3 1411.5 665.2 1413.0 667.6 1414.5 664.9 1416.0 666.1 1417.5 666.8 1419.0 665.4 1420.5 667.3 1422.0 667.0 1423.5 665.8 1425.0 667.0 1426.5 664.7 1428.0 666.8 1429.5 665.5 1431.0 667.4 1432.5 663.0 1434.0 667.0 1435.5 665.6 1437.0 664.0 1438.5 667.2 1440.0 664.2 1441.5 662.4 1443.0 661.8 1444.5 661.9 1446.0 666.0 1447.5 662.6 1449.0 663.6 1450.5 666.0 1452.0 662.3 1453.5 663.7 1455.0 660.2 1456.5 663.8 1458.0 664.5 1459.5 660.8 1461.0 664.0 1462.5 662.1 1464.0 662.3 1465.5 659.9 1467.0 664.0 1468.5 660.4 1470.0 661.7 1471.5 658.7 1473.0 661.8 1474.5 658.5 1476.0 659.1 1477.5 662.7 1479.0 659.4 1480.5 659.5 1482.0 661.9 1483.5 662.8 1485.0 662.9 1486.5 658.6 1488.0 661.8 1489.5 658.6 1491.0 661.3 1492.5 658.4 1494.0 661.2 1495.5 658.4 1497.0 657.8 1498.5 659.0 1500.0 657.6 1501.5 659.4 1503.0 657.9 1504.5 660.9 1506.0 656.7 1507.5 659.8 1509.0 655.8 1510.5 656.3 1512.0 655.9 1513.5 654.3 1515.0 658.7 1516.5 659.6 1518.0 655.1 1519.5 659.2 1521.0 655.2 1522.5 658.6 1524.0 654.6 1525.5 654.5 1527.0 653.0 1528.5 656.6 1530.0 657.4 1531.5 654.9 1533.0 655.6 1534.5 653.7 1536.0 655.8 1537.5 651.9 1539.0 656.4 1540.5 654.0 1542.0 653.1 1543.5 656.9 1545.0 652.7 1546.5 656.3 1548.0 652.3 1549.5 654.9 1551.0 652.2 1552.5 652.5 1554.0 654.2 1555.5 651.5 1557.0 649.7 1558.5 653.7 1560.0 649.4 1561.5 654.7 1563.0 649.3 1564.5 654.9 1566.0 653.2 1567.5 654.0 1569.0 649.9 1570.5 654.2 1572.0 648.4 1573.5 653.9 1575.0 648.5 1576.5 653.1 1578.0 649.3 1579.5 647.3 1581.0 653.2 1582.5 649.3 1584.0 651.9 1585.5 652.5 1587.0 647.0 1588.5 647.5 1590.0 651.0 1591.5 648.1 1593.0 650.9 1594.5 647.3 1596.0 647.9 1597.5 651.6 1599.0 646.3 1600.5 649.9 1602.0 646.2 1603.5 647.5 1605.0 647.0 1606.5 650.4 1608.0 645.3 1609.5 649.4 1611.0 648.0 1612.5 644.1 1614.0 646.2 1615.5 647.4 1617.0 649.8 1618.5 644.7 1620.0 648.4 1621.5 649.0 1623.0 648.9 1624.5 645.0 1626.0 647.8 1627.5 646.1 1629.0 642.6 1630.5 646.1 1632.0 642.0 1633.5 647.9 1635.0 642.2 1636.5 645.8 1638.0 642.3 1639.5 647.7 1641.0 643.2 1642.5 646.8 1644.0 646.9 1645.5 643.5 1647.0 644.6 1648.5 643.2 1650.0 644.6 1651.5 640.1 1653.0 644.4 1654.5 642.5 1656.0 645.0 1657.5 639.5 1659.0 644.9 1660.5 645.6 1662.0 640.2 1663.5 644.2 1665.0 640.2 1666.5 644.2 1668.0 640.6 1669.5 644.5 1671.0 638.2 1672.5 643.7 1674.0 638.9 1675.5 639.5 1677.0 644.5 1678.5 639.5 1680.0 643.8 1681.5 639.4 1683.0 641.3 1684.5 637.3 1686.0 642.9 1687.5 637.0 1689.0 643.2 1690.5 636.8 1692.0 637.1 1693.5 640.9 1695.0 636.3 1696.5 640.5 1698.0 636.1 1699.5 641.5 1701.0 637.3 1702.5 636.5 1704.0 636.2 1705.5 639.2 1707.0 639.2 1708.5 635.9 1710.0 641.5 1711.5 641.4 1713.0 636.4 1714.5 638.7 1716.0 634.1 1717.5 640.9 1719.0 635.2 1720.5 640.0 1722.0 639.0 1723.5 635.6 1725.0 638.8 1726.5 640.4 1728.0 635.8 1729.5 637.9 1731.0 635.4 1732.5 635.0 1734.0 637.0 1735.5 634.3 1737.0 638.6 1738.5 633.9 1740.0 637.0 1741.5 633.0 1743.0 637.1 1744.5 633.9 1746.0 637.8 1747.5 632.2 1749.0 635.3 1750.5 632.2 1752.0 637.0 1753.5 631.4 1755.0 636.2 1756.5 633.4 1758.0 636.3 1759.5 635.1 1761.0 635.1 1762.5 630.3 1764.0 634.9 1765.5 630.5 1767.0 632.7 1768.5 635.0 1770.0 631.4 1771.5 635.9 1773.0 631.1 1774.5 634.6 1776.0 629.1 1777.5 634.3 1779.0 630.7 1780.5 630.0 1782.0 631.2 1783.5 635.0 1785.0 632.8 1786.5 628.6 1788.0 632.7 1789.5 629.6 1791.0 633.4 1792.5 627.8 1794.0 633.5 1795.5 630.7 1797.0 633.6 1798.5 628.7 1800.0 632.2 1801.5 629.3 1803.0 633.5 1804.5 627.9 1806.0 627.2 1807.5 632.9 1809.0 627.3 1810.5 631.2 1812.0 627.5 1813.5 632.4 1815.0 626.4 1816.5 630.1 1818.0 630.3 1819.5 626.5 1821.0 627.1 1822.5 633.0 1824.0 627.7 1825.5 626.2 1827.0 630.3 1828.5 626.6 1830.0 626.7 1831.5 630.1 1833.0 626.9 1834.5 631.2 1836.0 626.1 1837.5 628.6 1839.0 624.9 1840.5 631.3 1842.0 625.2 1843.5 628.4 1845.0 626.2 1846.5 630.7 1848.0 628.9 1849.5 628.6 1851.0 626.8 1852.5 627.8 1854.0 624.3 1855.5 629.5 1857.0 623.5 1858.5 625.5 1860.0 628.4 1861.5 625.4 1863.0 627.7 1864.5 623.2 1866.0 629.5 1867.5 622.6 1869.0 626.5 1870.5 627.2 1872.0 627.0 1873.5 624.3 1875.0 626.4 1876.5 623.5 1878.0 623.3 1879.5 629.5 1881.0 623.7 1882.5 626.7 1884.0 623.1 1885.5 625.8 1887.0 628.8 1888.5 623.5 1890.0 622.8 1891.5 627.3 1893.0 621.1 1894.5 627.6 1896.0 622.0 1897.5 620.6 1899.0 626.9 1900.5 621.9 1902.0 626.3 1903.5 622.5 1905.0 626.1 1906.5 623.0 1908.0 627.1 1909.5 622.6 1911.0 626.4 1912.5 622.8 1914.0 625.2 1915.5 619.7 1917.0 626.7 1918.5 621.3 1920.0 622.0 1921.5 626.6 1923.0 620.4 1924.5 624.3 1926.0 618.4 1927.5 625.6 1929.0 618.6 1930.5 624.3 1932.0 620.0 1933.5 624.7 1935.0 618.6 1936.5 624.9 1938.0 619.7 1939.5 621.4 1941.0 623.0 1942.5 625.4 1944.0 625.4 1945.5 619.1 1947.0 619.1 1948.5 617.7 1950.0 623.8 1951.5 619.7 1953.0 623.3 1954.5 617.1 1956.0 623.7 1957.5 617.2 1959.0 617.3 1960.5 624.1 1962.0 617.2 1963.5 624.6 1965.0 623.5 1966.5 621.0 1968.0 617.8 1969.5 620.8 1971.0 622.3 1972.5 621.7 1974.0 619.2 1975.5 623.3 1977.0 617.4 1978.5 621.1 1980.0 618.0 1981.5 621.6 1983.0 618.4 1984.5 621.4 1986.0 618.6 1987.5 622.5 1989.0 620.8 1990.5 615.0 1992.0 614.6 1993.5 622.3 1995.0 618.3 1996.5 623.3 1998.0 617.2 1999.5 615.4 2001.0 619.2 2002.5 617.7 2004.0 615.0 2005.5 620.7 2007.0 614.2 2008.5 617.7 2010.0 621.3 2011.5 615.9 2013.0 620.7 2014.5 616.3 2016.0 619.0 2017.5 619.4 2019.0 619.1 2020.5 613.7 2022.0 618.7 2023.5 615.4 2025.0 622.1 2026.5 615.4 2028.0 618.8 2029.5 617.8 2031.0 612.8 2032.5 620.9 2034.0 613.2 2035.5 619.9 2037.0 614.6 2038.5 620.1 2040.0 616.0 2041.5 618.7 2043.0 615.3 2044.5 618.6 2046.0 612.0 2047.5 612.4 2049.0 621.2 2050.5 619.7 2052.0 612.6 2053.5 620.6 2055.0 620.0 2056.5 613.6 2058.0 620.8 2059.5 611.3 2061.0 617.2 2062.5 612.4 2064.0 618.6 2065.5 619.3 2067.0 613.9 2068.5 617.8 2070.0 611.9 2071.5 611.1" stroke="#ff0000"/>
<path d="M234.8 1410.0L236.0 1390.0 237.5 1405.0 239.0 1370.0 240.5 1385.0 242.0 1345.0 243.5 1360.0 244.5 1335.0 245.0 1339.5 246.5 1328.1 248.0 1344.4 249.5 1331.5 251.0 1343.2 252.5 1331.7 254.0 1346.2 255.5 1332.2 257.0 1342.8 258.5 1331.4 260.0 1347.4 261.5 1331.5 263.0 1343.2 264.5 1333.3 266.0 1345.0 267.5 1331.3 269.0 1341.8 270.5 1331.4 272.0 1342.3 273.5 1329.0 275.0 1343.7 276.5 1326.3 278.0 1339.8 279.5 1328.2 281.0 1335.7 282.5 1322.8 284.0 1336.8 285.5 1321.7 287.0 1332.9 288.5 1318.2 290.0 1332.3 291.5 1316.9 293.0 1329.1 294.5 1312.2 296.0 1324.8 297.5 1309.3 299.0 1316.4 300.5 1303.5 302.0 1315.2 303.5 1297.3 305.0 1308.3 306.5 1292.3 308.0 1304.5 309.5 1286.0 311.0 1298.1 312.5 1279.5 314.0 1288.1 315.5 1268.4 317.0 1277.3 318.5 1259.8 320.0 1269.0 321.5 1252.8 323.0 1259.3 324.5 1246.1 326.0 1247.5 327.5 1240.5 329.0 1242.8 330.5 1230.3 332.0 1225.8 333.5 1227.2 335.0 1222.9 336.5 1211.7 338.0 1210.5 339.5 1209.5 341.0 1223.6 342.5 1214.1 344.0 1221.8 345.5 1221.0 347.0 1224.3 348.5 1222.8 350.0 1231.6 351.5 1233.7 353.0 1231.3 354.5 1246.5 356.0 1244.4 357.5 1253.5 359.0 1248.0 360.5 1260.5 362.0 1254.5 363.5 1260.5 365.0 1270.0 366.5 1276.1 368.0 1270.6 369.5 1282.5 371.0 1274.6 372.5 1286.0 374.0 1283.7 375.5 1292.2 377.0 1285.8 378.5 1292.6 380.0 1300.2 381.5 1297.9 383.0 1305.4 384.5 1301.1 386.0 1313.4 387.5 1314.2 389.0 1311.1 390.5 1320.9 392.0 1323.3 393.5 1317.3 395.0 1324.2 396.5 1323.5 398.0 1333.3 399.5 1325.1 401.0 1335.5 402.5 1328.7 404.0 1339.3 405.5 1338.3 407.0 1346.2 408.5 1338.9 410.0 1350.8 411.5 1345.3 413.0 1356.4 414.5 1350.9 416.0 1356.9 417.5 1355.3 419.0 1362.2 420.5 1356.0 422.0 1366.6 423.5 1367.0 425.0 1366.4 426.5 1365.9 428.0 1371.3 429.5 1368.7 431.0 1377.0 432.5 1375.8 434.0 1373.5 435.5 1381.4 437.0 1373.1 438.5 1385.5 440.0 1376.7 441.5 1384.3 443.0 1382.0 444.5 1383.8 446.0 1389.1 447.5 1391.9 449.0 1385.3 450.5 1391.4 452.0 1383.3 453.5 1384.5 455.0 1386.5 456.5 1388.2 458.0 1393.3 459.5 1390.6 461.0 1392.4 462.5 1394.7 464.0 1392.8 465.5 1386.8 467.0 1392.6 468.5 1385.1 470.0 1391.7 471.5 1385.0 473.0 1385.2 474.5 1391.4 476.0 1383.4 477.5 1391.0 479.0 1390.0 480.5 1379.7 482.0 1381.0 483.5 1385.8 485.0 1380.2 486.5 1384.8 488.0 1375.6 489.5 1380.2 491.0 1381.8 492.5 1372.6 494.0 1376.1 495.5 1370.4 497.0 1370.1 498.5 1370.4 500.0 1363.5 501.5 1369.6 503.0 1360.8 504.5 1365.4 506.0 1357.1 507.5 1357.4 509.0 1357.8 510.5 1347.5 512.0 1349.3 513.5 1337.8 515.0 1341.6 516.5 1331.9 518.0 1336.2 519.5 1328.0 521.0 1333.5 522.5 1322.3 524.0 1326.2 525.5 1320.1 527.0 1318.6 528.5 1312.9 530.0 1315.3 531.5 1306.0 533.0 1310.2 534.5 1304.4 536.0 1305.5 537.5 1294.9 539.0 1293.3 540.5 1290.3 542.0 1287.2 543.5 1289.6 545.0 1280.2 546.5 1281.6 548.0 1271.8 549.5 1276.0 551.0 1270.0 552.5 1257.2 554.0 1253.1 555.5 1256.3 557.0 1242.5 558.5 1248.3 560.0 1233.4 561.5 1235.4 563.0 1233.0 564.5 1217.2 566.0 1219.5 567.5 1206.8 569.0 1212.3 570.5 1198.3 572.0 1200.8 573.5 1191.0 575.0 1189.6 576.5 1180.2 578.0 1185.3 579.5 1171.2 581.0 1168.8 582.5 1168.1 584.0 1168.1 585.5 1158.6 587.0 1156.6 588.5 1153.4 590.0 1156.3 591.5 1148.2 593.0 1139.5 594.5 1138.8 596.0 1138.4 597.5 1125.9 599.0 1120.0 600.5 1122.9 602.0 1109.1 603.5 1111.2 605.0 1101.1 606.5 1105.7 608.0 1102.6 609.5 1089.8 611.0 1092.7 612.5 1083.5 614.0 1085.6 615.5 1081.2 617.0 1073.9 618.5 1076.1 620.0 1068.2 621.5 1072.9 623.0 1059.5 624.5 1063.0 626.0 1051.2 627.5 1057.5 629.0 1048.7 630.5 1049.9 632.0 1044.3 633.5 1034.2 635.0 1038.0 636.5 1027.3 638.0 1028.9 639.5 1019.5 641.0 1012.6 642.5 1005.9 644.0 1010.6 645.5 1004.7 647.0 1006.2 648.5 993.7 650.0 993.5 651.5 988.4 653.0 990.1 654.5 976.9 656.0 980.9 657.5 974.6 659.0 976.8 660.5 966.5 662.0 969.1 663.5 958.1 665.0 963.3 666.5 960.3 668.0 950.7 669.5 958.0 671.0 951.5 672.5 945.6 674.0 951.3 675.5 941.6 677.0 946.4 678.5 943.5 680.0 933.8 681.5 937.7 683.0 926.7 684.5 933.0 686.0 920.0 687.5 926.8 689.0 925.1 690.5 913.1 692.0 920.9 693.5 912.3 695.0 913.6 696.5 911.1 698.0 902.7 699.5 907.8 701.0 901.8 702.5 893.9 704.0 892.7 705.5 887.3 707.0 893.4 708.5 883.8 710.0 884.7 711.5 877.7 713.0 881.0 714.5 867.4 716.0 873.4 717.5 870.9 719.0 863.1 720.5 857.3 722.0 862.7 723.5 852.9 725.0 850.3 726.5 859.1 728.0 850.9 729.5 852.3 731.0 847.0 732.5 849.3 734.0 840.1 735.5 845.1 737.0 838.8 738.5 841.7 740.0 831.9 741.5 840.5 743.0 839.5 744.5 834.2 746.0 829.4 747.5 826.9 749.0 825.0 750.5 828.7 752.0 824.3 753.5 824.9 755.0 822.1 756.5 825.2 758.0 814.7 759.5 819.7 761.0 815.3 762.5 817.8 764.0 812.3 765.5 812.7 767.0 813.4 768.5 806.0 770.0 812.0 771.5 802.2 773.0 805.9 774.5 797.7 776.0 804.5 777.5 798.0 779.0 798.9 780.5 795.5 782.0 796.5 783.5 793.4 785.0 795.7 786.5 796.2 788.0 787.9 789.5 792.6 791.0 786.4 792.5 793.2 794.0 783.8 795.5 784.7 797.0 787.2 798.5 782.0 800.0 788.8 801.5 785.5 803.0 785.5 804.5 781.4 806.0 783.2 807.5 776.2 809.0 782.7 810.5 776.1 812.0 780.8 813.5 775.1 815.0 772.4 816.5 775.7 818.0 769.8 819.5 776.0 821.0 768.0 822.5 772.7 824.0 767.6 825.5 772.7 827.0 764.5 828.5 769.5 830.0 765.4 831.5 768.5 833.0 767.6 834.5 762.2 836.0 765.9 837.5 759.2 839.0 761.2 840.5 756.2 842.0 760.6 843.5 757.0 845.0 758.7 846.5 755.9 848.0 757.6 849.5 751.7 851.0 754.9 852.5 750.0 854.0 755.5 855.5 751.2 857.0 754.0 858.5 747.1 860.0 751.5 861.5 745.7 863.0 750.8 864.5 746.4 866.0 749.3 867.5 744.0 869.0 746.0 870.5 746.2 872.0 745.0 873.5 741.6 875.0 745.8 876.5 740.1 878.0 741.6 879.5 736.9 881.0 742.2 882.5 736.7 884.0 740.7 885.5 739.4 887.0 739.9 888.5 733.9 890.0 733.9 891.5 734.5 893.0 735.1 894.5 731.7 896.0 735.4 897.5 731.9 899.0 734.0 900.5 728.4 902.0 731.8 903.5 729.5 905.0 730.2 906.5 727.7 908.0 730.5 909.5 727.2 911.0 729.6 912.5 728.2 914.0 724.1 915.5 725.8 917.0 722.1 918.5 725.8 920.0 723.5 921.5 725.6 923.0 723.9 924.5 723.2 926.0 719.8 927.5 720.8 929.0 718.5 930.5 721.7 932.0 718.4 933.5 720.6 935.0 715.5 936.5 715.9 938.0 715.9 939.5 718.0 941.0 715.1 942.5 714.4 944.0 714.5 945.5 714.7 947.0 711.7 948.5 714.5 950.0 711.1 951.5 713.1 953.0 712.3 954.5 708.9 956.0 711.1 957.5 709.4 959.0 710.9 960.5 708.6 962.0 709.6 963.5 705.6 965.0 708.0 966.5 705.6 968.0 705.4 969.5 707.6 971.0 705.8 972.5 707.8 974.0 702.9 975.5 705.5 977.0 704.5 978.5 705.9 980.0 701.6 981.5 704.0 983.0 703.9 984.5 702.8 986.0 705.1 987.5 701.2 989.0 704.0 990.5 701.2 992.0 702.9 993.5 701.5 995.0 700.6 996.5 702.9 998.0 702.9 999.5 699.6 1001.0 701.3 1002.5 700.7 1004.0 697.3 1005.5 699.6 1007.0 697.6 1008.5 699.3 1010.0 696.6 1011.5 699.2 1013.0 694.4 1014.5 696.4 1016.0 695.3 1017.5 695.7 1019.0 692.5 1020.5 694.6 1022.0 692.1 1023.5 693.7 1025.0 691.3 1026.5 693.9 1028.0 689.9 1029.5 692.6 1031.0 690.9 1032.5 690.3 1034.0 691.1 1035.5 688.5 1037.0 690.9 1038.5 687.1 1040.0 688.7 1041.5 687.5 1043.0 685.9 1044.5 689.3 1046.0 686.7 1047.5 687.0 1049.0 687.5 1050.5 683.3 1052.0 687.6 1053.5 684.7 1055.0 686.0 1056.5 682.3 1058.0 683.6 1059.5 681.6 1061.0 684.9 1062.5 682.8 1064.0 680.5 1065.5 684.1 1067.0 681.5 1068.5 679.8 1070.0 680.2 1071.5 680.9 1073.0 681.4 1074.5 680.1 1076.0 680.9 1077.5 678.2 1079.0 681.0 1080.5 677.5 1082.0 679.8 1083.5 678.4 1085.0 680.1 1086.5 677.8 1088.0 679.2 1089.5 676.2 1091.0 677.9 1092.5 677.0 1094.0 679.2 1095.5 675.6 1097.0 677.5 1098.5 675.5 1100.0 677.3 1101.5 675.1 1103.0 675.9 1104.5 676.8 1106.0 677.5 1107.5 674.7 1109.0 673.1 1110.5 674.8 1112.0 676.0 1113.5 674.1 1115.0 674.9 1116.5 676.6 1118.0 672.6 1119.5 672.6 1121.0 673.6 1122.5 674.0 1124.0 671.2 1125.5 674.1 1127.0 671.0 1128.5 674.9 1130.0 670.8 1131.5 675.0 1133.0 670.1 1134.5 674.0 1136.0 672.1 1137.5 670.0 1139.0 671.0 1140.5 673.7 1142.0 673.8 1143.5 670.2 1145.0 672.2 1146.5 672.1 1148.0 669.0 1149.5 668.9 1151.0 667.8 1152.5 672.4 1154.0 668.4 1155.5 670.5 1157.0 667.8 1158.5 667.2 1160.0 670.4 1161.5 669.6 1163.0 669.0 1164.5 668.6 1166.0 670.7 1167.5 669.4 1169.0 667.3 1170.5 667.4 1172.0 666.9 1173.5 669.9 1175.0 664.9 1176.5 669.8 1178.0 664.8 1179.5 669.3 1181.0 665.5 1182.5 666.9 1184.0 668.7 1185.5 664.9 1187.0 666.2 1188.5 663.4 1190.0 663.1 1191.5 667.6 1193.0 667.1 1194.5 663.9 1196.0 667.1 1197.5 663.4 1199.0 665.1 1200.5 662.9 1202.0 664.4 1203.5 662.0 1205.0 665.2 1206.5 661.0 1208.0 665.7 1209.5 664.2 1211.0 662.2 1212.5 663.0 1214.0 662.2 1215.5 663.7 1217.0 659.8 1218.5 662.8 1220.0 660.2 1221.5 662.6 1223.0 660.7 1224.5 658.5 1226.0 662.4 1227.5 659.5 1229.0 657.9 1230.5 662.5 1232.0 657.6 1233.5 661.9 1235.0 659.8 1236.5 658.1 1238.0 661.8 1239.5 659.1 1241.0 657.4 1242.5 660.4 1244.0 659.3 1245.5 655.8 1247.0 658.3 1248.5 659.5 1250.0 656.9 1251.5 660.0 1253.0 655.8 1254.5 658.4 1256.0 659.1 1257.5 655.1 1259.0 654.3 1260.5 656.9 1262.0 656.2 1263.5 658.2 1265.0 654.2 1266.5 657.2 1268.0 653.7 1269.5 657.4 1271.0 653.0 1272.5 656.8 1274.0 653.6 1275.5 654.2 1277.0 655.1 1278.5 652.7 1280.0 655.5 1281.5 653.6 1283.0 655.7 1284.5 651.5 1286.0 651.2 1287.5 654.4 1289.0 651.2 1290.5 653.8 1292.0 652.4 1293.5 655.5 1295.0 650.9 1296.5 653.3 1298.0 651.7 1299.5 652.5 1301.0 652.8 1302.5 651.9 1304.0 650.9 1305.5 653.1 1307.0 650.4 1308.5 653.1 1310.0 649.2 1311.5 651.5 1313.0 652.2 1314.5 650.4 1316.0 651.8 1317.5 649.2 1319.0 651.4 1320.5 651.5 1322.0 649.2 1323.5 650.4 1325.0 648.3 1326.5 650.7 1328.0 650.1 1329.5 648.5 1331.0 651.1 1332.5 646.7 1334.0 646.1 1335.5 646.4 1337.0 647.5 1338.5 648.5 1340.0 646.8 1341.5 649.4 1343.0 647.1 1344.5 648.3 1346.0 649.1 1347.5 649.7 1349.0 646.2 1350.5 647.6 1352.0 644.6 1353.5 647.7 1355.0 646.2 1356.5 643.9 1358.0 648.2 1359.5 644.1 1361.0 647.9 1362.5 644.2 1364.0 646.5 1365.5 647.8 1367.0 642.9 1368.5 643.5 1370.0 647.0 1371.5 643.2 1373.0 642.9 1374.5 641.8 1376.0 646.4 1377.5 642.5 1379.0 646.1 1380.5 641.1 1382.0 641.0 1383.5 644.9 1385.0 640.6 1386.5 642.6 1388.0 641.9 1389.5 642.9 1391.0 640.2 1392.5 642.6 1394.0 643.6 1395.5 640.3 1397.0 643.7 1398.5 641.2 1400.0 642.5 1401.5 640.0 1403.0 641.5 1404.5 638.7 1406.0 639.9 1407.5 640.5 1409.0 641.3 1410.5 638.8 1412.0 641.9 1413.5 639.7 1415.0 642.7 1416.5 637.5 1418.0 640.4 1419.5 638.0 1421.0 640.5 1422.5 638.5 1424.0 640.7 1425.5 639.2 1427.0 636.4 1428.5 640.6 1430.0 637.8 1431.5 638.7 1433.0 636.8 1434.5 638.3 1436.0 639.9 1437.5 635.7 1439.0 639.0 1440.5 635.0 1442.0 639.3 1443.5 636.3 1445.0 639.6 1446.5 635.2 1448.0 637.1 1449.5 635.7 1451.0 638.9 1452.5 635.8 1454.0 637.5 1455.5 636.7 1457.0 635.2 1458.5 635.0 1460.0 637.3 1461.5 632.9 1463.0 633.2 1464.5 633.8 1466.0 635.8 1467.5 634.3 1469.0 634.8 1470.5 632.9 1472.0 636.7 1473.5 633.9 1475.0 636.3 1476.5 636.3 1478.0 632.9 1479.5 636.2 1481.0 630.6 1482.5 631.2 1484.0 632.5 1485.5 630.3 1487.0 634.0 1488.5 630.9 1490.0 635.2 1491.5 632.1 1493.0 632.5 1494.5 634.6 1496.0 631.9 1497.5 632.1 1499.0 630.9 1500.5 633.3 1502.0 630.4 1503.5 628.1 1505.0 633.7 1506.5 629.6 1508.0 630.6 1509.5 628.3 1511.0 630.5 1512.5 628.3 1514.0 632.3 1515.5 629.3 1517.0 631.8 1518.5 628.0 1520.0 630.7 1521.5 628.3 1523.0 627.8 1524.5 629.6 1526.0 627.3 1527.5 628.6 1529.0 625.8 1530.5 629.5 1532.0 626.1 1533.5 625.2 1535.0 626.3 1536.5 624.4 1538.0 629.7 1539.5 624.0 1541.0 629.4 1542.5 624.2 1544.0 628.0 1545.5 624.7 1547.0 627.5 1548.5 627.4 1550.0 627.4 1551.5 628.0 1553.0 627.9 1554.5 622.6 1556.0 627.9 1557.5 623.4 1559.0 626.1 1560.5 625.8 1562.0 621.5 1563.5 625.7 1565.0 622.7 1566.5 627.0 1568.0 620.9 1569.5 625.6 1571.0 621.9 1572.5 622.1 1574.0 621.3 1575.5 622.3 1577.0 624.1 1578.5 624.3 1580.0 620.3 1581.5 624.2 1583.0 620.5 1584.5 624.4 1586.0 619.9 1587.5 623.8 1589.0 620.5 1590.5 619.6 1592.0 622.7 1593.5 619.2 1595.0 623.0 1596.5 617.7 1598.0 623.7 1599.5 618.4 1601.0 622.0 1602.5 617.6 1604.0 622.6 1605.5 619.5 1607.0 620.7 1608.5 617.9 1610.0 622.4 1611.5 621.5 1613.0 620.9 1614.5 616.0 1616.0 620.3 1617.5 621.2 1619.0 621.2 1620.5 617.3 1622.0 619.2 1623.5 617.2 1625.0 619.0 1626.5 614.8 1628.0 620.4 1629.5 616.2 1631.0 619.3 1632.5 614.9 1634.0 617.3 1635.5 614.2 1637.0 619.2 1638.5 613.6 1640.0 614.9 1641.5 615.7 1643.0 618.1 1644.5 613.9 1646.0 618.1 1647.5 614.2 1649.0 618.7 1650.5 614.7 1652.0 618.2 1653.5 614.6 1655.0 617.5 1656.5 612.8 1658.0 615.7 1659.5 612.5 1661.0 612.4 1662.5 612.1 1664.0 615.1 1665.5 610.4 1667.0 614.5 1668.5 611.1 1670.0 615.2 1671.5 612.6 1673.0 614.2 1674.5 610.3 1676.0 610.6 1677.5 615.4 1679.0 610.3 1680.5 609.0 1682.0 610.5 1683.5 613.1 1685.0 610.8 1686.5 612.9 1688.0 609.9 1689.5 609.7 1691.0 614.6 1692.5 608.5 1694.0 609.3 1695.5 611.9 1697.0 610.1 1698.5 607.2 1700.0 609.3 1701.5 612.9 1703.0 607.9 1704.5 612.2 1706.0 607.9 1707.5 611.4 1709.0 607.9 1710.5 610.5 1712.0 606.3 1713.5 611.7 1715.0 607.5 1716.5 610.1 1718.0 611.6 1719.5 611.3 1721.0 607.8 1722.5 611.2 1724.0 607.2 1725.5 606.1 1727.0 608.8 1728.5 605.6 1730.0 609.4 1731.5 606.6 1733.0 609.4 1734.5 605.5 1736.0 610.3 1737.5 608.1 1739.0 603.4 1740.5 609.0 1742.0 603.2 1743.5 609.7 1745.0 604.8 1746.5 607.4 1748.0 604.7 1749.5 604.5 1751.0 606.8 1752.5 604.6 1754.0 607.0 1755.5 606.1 1757.0 602.6 1758.5 604.2 1760.0 606.3 1761.5 602.8 1763.0 602.0 1764.5 605.6 1766.0 602.6 1767.5 607.3 1769.0 601.0 1770.5 604.5 1772.0 601.7 1773.5 604.4 1775.0 605.9 1776.5 601.4 1778.0 605.8 1779.5 601.2 1781.0 605.5 1782.5 600.7 1784.0 604.5 1785.5 600.6 1787.0 602.8 1788.5 600.7 1790.0 602.4 1791.5 604.9 1793.0 602.2 1794.5 597.7 1796.0 602.0 1797.5 598.6 1799.0 601.5 1800.5 599.1 1802.0 598.2 1803.5 602.2 1805.0 599.1 1806.5 601.2 1808.0 597.1 1809.5 601.9 1811.0 599.3 1812.5 600.5 1814.0 597.8 1815.5 601.1 1817.0 596.2 1818.5 602.1 1820.0 597.6 1821.5 601.6 1823.0 596.4 1824.5 601.2 1826.0 595.0 1827.5 596.4 1829.0 599.0 1830.5 595.8 1832.0 595.2 1833.5 600.2 1835.0 598.8 1836.5 596.1 1838.0 601.3 1839.5 599.2 1841.0 596.1 1842.5 598.4 1844.0 596.3 1845.5 597.6 1847.0 599.9 1848.5 593.2 1850.0 597.3 1851.5 596.1 1853.0 597.4 1854.5 594.9 1856.0 598.5 1857.5 594.3 1859.0 593.1 1860.5 598.0 1862.0 592.7 1863.5 599.4 1865.0 592.1 1866.5 599.4 1868.0 592.5 1869.5 599.2 1871.0 592.6 1872.5 598.0 1874.0 593.8 1875.5 598.9 1877.0 593.2 1878.5 597.9 1880.0 598.0 1881.5 598.0 1883.0 591.2 1884.5 593.4 1886.0 596.5 1887.5 593.0 1889.0 596.0 1890.5 592.8 1892.0 592.7 1893.5 595.7 1895.0 592.2 1896.5 591.8 1898.0 596.0 1899.5 596.7 1901.0 591.6 1902.5 593.9 1904.0 590.8 1905.5 591.2 1907.0 596.3 1908.5 591.2 1910.0 590.4 1911.5 588.5 1913.0 596.0 1914.5 592.0 1916.0 594.5 1917.5 591.5 1919.0 595.4 1920.5 591.2 1922.0 595.2 1923.5 588.9 1925.0 596.1 1926.5 591.1 1928.0 595.4 1929.5 593.9 1931.0 588.4 1932.5 594.6 1934.0 590.9 1935.5 594.0 1937.0 589.8 1938.5 588.2 1940.0 592.1 1941.5 586.8 1943.0 592.2 1944.5 587.9 1946.0 594.3 1947.5 589.0 1949.0 591.1 1950.5 588.9 1952.0 592.8 1953.5 592.3 1955.0 587.1 1956.5 592.1 1958.0 586.4 1959.5 588.7 1961.0 592.2 1962.5 591.2 1964.0 586.4 1965.5 585.9 1967.0 591.9 1968.5 585.9 1970.0 590.7 1971.5 585.0 1973.0 586.5 1974.5 591.9 1976.0 587.4 1977.5 590.7 1979.0 586.5 1980.5 589.6 1982.0 585.3 1983.5 587.5 1985.0 591.7 1986.5 586.1 1988.0 593.0 1989.5 583.9 1991.0 589.9 1992.5 584.7 1994.0 591.9 1995.5 585.5 1997.0 589.6 1998.5 584.2 2000.0 588.7 2001.5 585.8 2003.0 589.0 2004.5 586.7 2006.0 590.6 2007.5 589.4 2009.0 583.6 2010.5 591.2 2012.0 586.8 2013.5 584.0 2015.0 588.8 2016.5 586.2 2018.0 586.1 2019.5 588.3 2021.0 585.7 2022.5 588.9 2024.0 584.1 2025.5 589.4 2027.0 585.6 2028.5 587.5 2030.0 585.1 2031.5 587.6 2033.0 585.9 2034.5 582.1 2036.0 587.9 2037.5 585.0 2039.0 582.6 2040.5 588.6 2042.0 581.8 2043.5 587.0 2045.0 582.0 2046.5 588.3 2048.0 584.1 2049.5 589.4 2051.0 582.7 2052.5 582.3 2054.0 587.3 2055.5 589.5 2057.0 582.8 2058.5 589.6 2060.0 584.8 2061.5 583.8 2063.0 589.5 2064.5 588.4 2066.0 583.6 2067.5 585.7 2069.0 582.6 2070.5 586.2 2072.0 583.7" stroke="#0000ff"/>
<path d="M234.8 1418.0L236.0 1400.0 237.0 1415.0 238.0 1380.0 239.0 1410.0 240.0 1340.0 241.0 1380.0 242.0 1310.0 243.0 1350.0 244.0 1290.0 245.0 1323.9 246.5 1312.2 248.0 1327.6 249.5 1315.6 251.0 1329.0 252.5 1318.5 254.0 1333.6 255.5 1320.5 257.0 1336.8 258.5 1317.2 260.0 1336.2 261.5 1324.1 263.0 1341.9 264.5 1324.0 266.0 1338.6 267.5 1321.3 269.0 1336.6 270.5 1320.6 272.0 1333.8 273.5 1315.5 275.0 1330.1 276.5 1314.5 278.0 1330.3 279.5 1313.7 281.0 1328.7 282.5 1312.0 284.0 1325.6 285.5 1309.6 287.0 1321.4 288.5 1307.0 290.0 1318.4 291.5 1298.9 293.0 1312.4 294.5 1292.9 296.0 1307.3 297.5 1289.6 299.0 1304.6 300.5 1284.6 302.0 1295.1 303.5 1279.6 305.0 1288.0 306.5 1268.3 308.0 1282.9 309.5 1258.0 311.0 1270.8 312.5 1250.9 314.0 1265.3 315.5 1247.6 317.0 1257.0 318.5 1242.2 320.0 1252.0 321.5 1233.7 323.0 1242.6 324.5 1220.7 326.0 1227.8 327.5 1209.9 329.0 1215.9 330.5 1200.5 332.0 1201.9 333.5 1191.4 335.0 1201.8 336.5 1188.9 338.0 1204.4 339.5 1196.6 341.0 1206.0 342.5 1204.0 344.0 1205.5 345.5 1217.9 347.0 1213.6 348.5 1216.6 350.0 1229.7 351.5 1221.4 353.0 1228.1 354.5 1235.0 356.0 1231.8 357.5 1240.6 359.0 1236.9 360.5 1243.7 362.0 1249.6 363.5 1245.8 365.0 1258.8 366.5 1252.5 368.0 1255.1 369.5 1265.7 371.0 1260.8 372.5 1272.7 374.0 1263.6 375.5 1277.5 377.0 1272.5 378.5 1273.6 380.0 1276.3 381.5 1289.0 383.0 1286.0 384.5 1294.5 386.0 1295.5 387.5 1290.3 389.0 1302.5 390.5 1301.3 392.0 1310.6 393.5 1301.8 395.0 1309.5 396.5 1315.7 398.0 1310.2 399.5 1320.3 401.0 1326.6 402.5 1318.9 404.0 1328.1 405.5 1324.8 407.0 1336.2 408.5 1329.5 410.0 1339.4 411.5 1337.6 413.0 1346.8 414.5 1343.1 416.0 1351.3 417.5 1347.3 419.0 1352.6 420.5 1350.9 422.0 1359.4 423.5 1353.7 425.0 1363.2 426.5 1360.3 428.0 1363.4 429.5 1359.3 431.0 1370.3 432.5 1362.6 434.0 1373.6 435.5 1367.0 437.0 1378.0 438.5 1372.1 440.0 1371.3 441.5 1380.9 443.0 1373.5 444.5 1377.9 446.0 1384.9 447.5 1386.0 449.0 1379.0 450.5 1382.3 452.0 1380.9 453.5 1377.0 455.0 1387.9 456.5 1378.2 458.0 1380.4 459.5 1385.6 461.0 1385.9 462.5 1388.7 464.0 1388.4 465.5 1382.1 467.0 1389.6 468.5 1384.4 470.0 1387.9 471.5 1379.7 473.0 1388.3 474.5 1382.0 476.0 1378.6 477.5 1386.8 479.0 1387.1 480.5 1378.3 482.0 1382.0 483.5 1375.7 485.0 1383.1 486.5 1376.2 488.0 1372.4 489.5 1378.9 491.0 1372.9 492.5 1375.4 494.0 1367.0 495.5 1372.8 497.0 1364.9 498.5 1369.7 500.0 1362.6 501.5 1367.3 503.0 1360.1 504.5 1364.0 506.0 1359.1 507.5 1352.0 509.0 1351.0 510.5 1355.0 512.0 1343.3 513.5 1345.1 515.0 1338.9 516.5 1341.0 518.0 1329.8 519.5 1333.8 521.0 1326.4 522.5 1327.3 524.0 1327.7 525.5 1316.6 527.0 1318.9 528.5 1309.1 530.0 1306.4 531.5 1303.4 533.0 1305.5 534.5 1300.3 536.0 1298.6 537.5 1287.6 539.0 1292.5 540.5 1279.0 542.0 1284.8 543.5 1272.5 545.0 1272.7 546.5 1263.7 548.0 1260.4 549.5 1259.8 551.0 1250.8 552.5 1254.1 554.0 1243.1 555.5 1244.6 557.0 1236.8 558.5 1238.1 560.0 1225.0 561.5 1228.1 563.0 1224.6 564.5 1213.5 566.0 1215.8 567.5 1203.1 569.0 1202.0 570.5 1194.3 572.0 1193.6 573.5 1191.2 575.0 1178.7 576.5 1177.8 578.0 1176.0 579.5 1164.6 581.0 1166.3 582.5 1152.2 584.0 1156.2 585.5 1141.6 587.0 1142.0 588.5 1143.0 590.0 1131.1 591.5 1134.2 593.0 1120.5 594.5 1117.4 596.0 1118.9 597.5 1108.7 599.0 1110.5 600.5 1101.3 602.0 1095.9 603.5 1099.8 605.0 1086.0 606.5 1090.5 608.0 1081.3 609.5 1084.0 611.0 1072.6 612.5 1073.3 614.0 1066.7 615.5 1068.3 617.0 1056.9 618.5 1060.1 620.0 1048.1 621.5 1048.1 623.0 1048.1 624.5 1040.1 626.0 1042.0 627.5 1030.2 629.0 1030.0 630.5 1025.6 632.0 1012.9 633.5 1018.9 635.0 1003.5 636.5 1008.0 638.0 995.1 639.5 990.5 641.0 994.0 642.5 981.7 644.0 982.2 645.5 970.6 647.0 972.9 648.5 970.9 650.0 962.0 651.5 963.0 653.0 951.3 654.5 952.2 656.0 946.6 657.5 949.2 659.0 944.6 660.5 935.4 662.0 936.6 663.5 935.5 665.0 930.3 666.5 932.9 668.0 919.2 669.5 922.0 671.0 912.9 672.5 918.0 674.0 908.3 675.5 905.5 677.0 908.8 678.5 904.0 680.0 906.9 681.5 898.1 683.0 904.3 684.5 894.6 686.0 898.0 687.5 893.4 689.0 893.3 690.5 885.3 692.0 884.8 693.5 880.3 695.0 882.4 696.5 878.4 698.0 879.3 699.5 868.5 701.0 873.7 702.5 870.2 704.0 863.0 705.5 856.3 707.0 860.8 708.5 858.8 710.0 849.5 711.5 847.1 713.0 850.1 714.5 839.9 716.0 845.4 717.5 838.4 719.0 835.9 720.5 841.6 722.0 831.2 723.5 831.6 725.0 823.1 726.5 823.5 728.0 822.5 729.5 826.3 731.0 816.0 732.5 823.6 734.0 818.3 735.5 811.0 737.0 815.4 738.5 809.4 740.0 810.1 741.5 811.6 743.0 799.5 744.5 806.4 746.0 799.4 747.5 804.3 749.0 792.0 750.5 798.8 752.0 794.7 753.5 796.5 755.0 785.4 756.5 790.8 758.0 789.0 759.5 790.2 761.0 781.0 762.5 783.7 764.0 779.6 765.5 782.5 767.0 775.4 768.5 780.0 770.0 773.7 771.5 771.9 773.0 773.2 774.5 774.0 776.0 765.2 777.5 762.4 779.0 769.8 780.5 763.4 782.0 764.2 783.5 756.4 785.0 755.3 786.5 760.5 788.0 753.9 789.5 759.2 791.0 750.3 792.5 754.5 794.0 755.3 795.5 747.5 797.0 745.9 798.5 749.1 800.0 742.5 801.5 749.4 803.0 743.2 804.5 743.9 806.0 740.6 807.5 743.5 809.0 737.1 810.5 741.9 812.0 736.1 813.5 739.3 815.0 737.6 816.5 732.4 818.0 735.4 819.5 736.3 821.0 728.0 822.5 732.7 824.0 725.5 825.5 730.1 827.0 728.0 828.5 729.1 830.0 728.8 831.5 720.4 833.0 725.9 834.5 720.1 836.0 722.3 837.5 718.4 839.0 720.9 840.5 717.8 842.0 719.6 843.5 715.8 845.0 718.8 846.5 713.7 848.0 716.8 849.5 712.8 851.0 710.5 852.5 712.9 854.0 710.5 855.5 712.0 857.0 706.0 858.5 709.2 860.0 707.7 861.5 709.0 863.0 703.0 864.5 706.9 866.0 701.9 867.5 703.9 869.0 701.5 870.5 705.8 872.0 699.4 873.5 705.1 875.0 698.7 876.5 702.9 878.0 702.5 879.5 696.8 881.0 699.4 882.5 696.8 884.0 695.6 885.5 698.0 887.0 698.2 888.5 694.8 890.0 695.4 891.5 693.1 893.0 690.8 894.5 694.1 896.0 690.9 897.5 691.9 899.0 687.3 900.5 691.5 902.0 687.9 903.5 687.4 905.0 690.3 906.5 685.4 908.0 685.0 909.5 687.1 911.0 682.7 912.5 684.5 914.0 681.3 915.5 685.1 917.0 680.4 918.5 684.1 920.0 680.9 921.5 683.5 923.0 679.5 924.5 680.9 926.0 677.2 927.5 680.1 929.0 681.0 930.5 678.7 932.0 674.9 933.5 677.8 935.0 675.7 936.5 677.0 938.0 677.1 939.5 675.2 941.0 675.3 942.5 674.1 944.0 676.0 945.5 671.1 947.0 674.4 948.5 673.4 950.0 671.0 951.5 672.2 953.0 670.5 954.5 671.0 956.0 669.0 957.5 668.7 959.0 669.6 960.5 669.9 962.0 666.7 963.5 665.6 965.0 667.5 966.5 668.6 968.0 666.4 969.5 668.2 971.0 664.3 972.5 667.2 974.0 664.0 975.5 665.9 977.0 662.3 978.5 665.2 980.0 661.5 981.5 664.9 983.0 664.4 984.5 660.1 986.0 662.8 987.5 663.4 989.0 661.0 990.5 660.9 992.0 657.7 993.5 661.3 995.0 658.8 996.5 656.9 998.0 658.3 999.5 658.3 1001.0 656.5 1002.5 655.3 1004.0 657.8 1005.5 654.2 1007.0 658.3 1008.5 655.4 1010.0 657.0 1011.5 654.8 1013.0 652.8 1014.5 656.0 1016.0 653.7 1017.5 652.4 1019.0 654.6 1020.5 650.7 1022.0 654.0 1023.5 652.2 1025.0 650.4 1026.5 649.6 1028.0 652.9 1029.5 650.1 1031.0 651.1 1032.5 648.7 1034.0 650.3 1035.5 647.9 1037.0 649.9 1038.5 647.3 1040.0 649.3 1041.5 648.1 1043.0 650.3 1044.5 647.5 1046.0 648.4 1047.5 644.9 1049.0 646.7 1050.5 647.9 1052.0 646.2 1053.5 648.6 1055.0 643.5 1056.5 644.7 1058.0 647.0 1059.5 643.3 1061.0 642.5 1062.5 645.7 1064.0 644.3 1065.5 641.8 1067.0 641.9 1068.5 644.5 1070.0 642.1 1071.5 645.0 1073.0 644.8 1074.5 641.6 1076.0 644.2 1077.5 640.8 1079.0 643.5 1080.5 640.7 1082.0 641.0 1083.5 639.2 1085.0 641.0 1086.5 639.3 1088.0 642.5 1089.5 638.2 1091.0 641.4 1092.5 638.8 1094.0 637.0 1095.5 639.2 1097.0 637.8 1098.5 638.7 1100.0 640.2 1101.5 638.7 1103.0 635.9 1104.5 637.1 1106.0 637.3 1107.5 636.4 1109.0 637.9 1110.5 634.6 1112.0 634.2 1113.5 638.6 1115.0 635.5 1116.5 633.3 1118.0 635.9 1119.5 632.8 1121.0 636.8 1122.5 633.1 1124.0 633.0 1125.5 634.5 1127.0 632.2 1128.5 634.9 1130.0 633.7 1131.5 634.0 1133.0 631.1 1134.5 631.1 1136.0 633.3 1137.5 634.1 1139.0 634.5 1140.5 631.6 1142.0 634.2 1143.5 632.3 1145.0 629.6 1146.5 632.9 1148.0 630.2 1149.5 631.8 1151.0 628.4 1152.5 630.8 1154.0 629.3 1155.5 628.9 1157.0 631.4 1158.5 631.4 1160.0 627.9 1161.5 631.1 1163.0 630.1 1164.5 626.9 1166.0 626.5 1167.5 629.9 1169.0 628.0 1170.5 629.9 1172.0 627.1 1173.5 628.5 1175.0 624.8 1176.5 627.0 1178.0 629.2 1179.5 625.3 1181.0 629.0 1182.5 626.0 1184.0 627.2 1185.5 624.1 1187.0 627.4 1188.5 622.7 1190.0 626.7 1191.5 623.2 1193.0 625.2 1194.5 623.0 1196.0 626.5 1197.5 621.6 1199.0 625.2 1200.5 621.7 1202.0 622.7 1203.5 621.4 1205.0 623.4 1206.5 622.3 1208.0 623.3 1209.5 622.8 1211.0 622.4 1212.5 619.4 1214.0 623.7 1215.5 619.7 1217.0 619.0 1218.5 622.2 1220.0 621.3 1221.5 617.9 1223.0 622.2 1224.5 619.6 1226.0 619.1 1227.5 618.2 1229.0 619.8 1230.5 621.2 1232.0 616.2 1233.5 621.1 1235.0 617.0 1236.5 620.4 1238.0 615.7 1239.5 616.6 1241.0 619.2 1242.5 615.8 1244.0 619.3 1245.5 616.6 1247.0 617.2 1248.5 614.4 1250.0 618.2 1251.5 615.8 1253.0 618.4 1254.5 614.9 1256.0 615.4 1257.5 613.7 1259.0 616.5 1260.5 616.2 1262.0 613.6 1263.5 614.4 1265.0 612.3 1266.5 615.0 1268.0 613.3 1269.5 613.9 1271.0 611.5 1272.5 614.9 1274.0 610.7 1275.5 614.1 1277.0 610.5 1278.5 614.2 1280.0 613.9 1281.5 611.1 1283.0 610.9 1284.5 612.8 1286.0 609.3 1287.5 613.5 1289.0 608.9 1290.5 612.5 1292.0 612.5 1293.5 608.2 1295.0 610.6 1296.5 611.1 1298.0 607.6 1299.5 610.0 1301.0 607.1 1302.5 606.9 1304.0 609.0 1305.5 608.1 1307.0 609.2 1308.5 608.5 1310.0 608.2 1311.5 608.0 1313.0 608.2 1314.5 608.2 1316.0 605.6 1317.5 608.0 1319.0 608.0 1320.5 607.2 1322.0 606.6 1323.5 609.2 1325.0 606.5 1326.5 607.7 1328.0 604.3 1329.5 606.0 1331.0 604.8 1332.5 606.1 1334.0 603.1 1335.5 607.7 1337.0 603.4 1338.5 606.6 1340.0 602.8 1341.5 603.8 1343.0 603.7 1344.5 604.4 1346.0 601.5 1347.5 605.1 1349.0 601.7 1350.5 605.5 1352.0 600.7 1353.5 605.0 1355.0 602.7 1356.5 605.3 1358.0 603.5 1359.5 601.5 1361.0 600.3 1362.5 604.1 1364.0 603.6 1365.5 602.7 1367.0 599.6 1368.5 603.0 1370.0 601.6 1371.5 600.7 1373.0 600.2 1374.5 602.8 1376.0 598.7 1377.5 598.2 1379.0 597.9 1380.5 599.5 1382.0 602.1 1383.5 597.3 1385.0 597.5 1386.5 601.1 1388.0 597.2 1389.5 599.7 1391.0 597.1 1392.5 599.4 1394.0 596.0 1395.5 597.5 1397.0 598.4 1398.5 596.1 1400.0 599.8 1401.5 597.7 1403.0 595.5 1404.5 599.6 1406.0 596.1 1407.5 599.2 1409.0 598.4 1410.5 598.4 1412.0 595.3 1413.5 595.3 1415.0 597.9 1416.5 598.3 1418.0 595.3 1419.5 597.7 1421.0 593.2 1422.5 596.2 1424.0 593.1 1425.5 592.7 1427.0 597.3 1428.5 593.6 1430.0 595.4 1431.5 592.0 1433.0 594.1 1434.5 594.0 1436.0 592.8 1437.5 595.0 1439.0 591.2 1440.5 591.5 1442.0 594.4 1443.5 593.8 1445.0 591.3 1446.5 593.9 1448.0 589.4 1449.5 591.9 1451.0 591.6 1452.5 594.0 1454.0 589.5 1455.5 592.0 1457.0 590.6 1458.5 592.1 1460.0 590.3 1461.5 591.0 1463.0 587.8 1464.5 589.7 1466.0 592.8 1467.5 587.3 1469.0 591.0 1470.5 587.4 1472.0 587.9 1473.5 586.6 1475.0 588.0 1476.5 591.0 1478.0 587.3 1479.5 588.6 1481.0 585.6 1482.5 590.9 1484.0 588.9 1485.5 586.0 1487.0 590.2 1488.5 588.1 1490.0 585.2 1491.5 589.5 1493.0 584.3 1494.5 589.0 1496.0 584.2 1497.5 588.0 1499.0 587.5 1500.5 585.5 1502.0 588.1 1503.5 585.1 1505.0 587.4 1506.5 583.9 1508.0 586.3 1509.5 583.6 1511.0 587.1 1512.5 586.7 1514.0 587.1 1515.5 585.8 1517.0 586.1 1518.5 582.6 1520.0 585.8 1521.5 582.3 1523.0 584.7 1524.5 581.7 1526.0 580.2 1527.5 584.0 1529.0 579.7 1530.5 580.5 1532.0 582.6 1533.5 580.0 1535.0 583.9 1536.5 579.1 1538.0 583.8 1539.5 580.3 1541.0 582.8 1542.5 579.4 1544.0 583.4 1545.5 579.8 1547.0 581.2 1548.5 577.1 1550.0 578.3 1551.5 576.8 1553.0 580.5 1554.5 580.5 1556.0 577.7 1557.5 580.1 1559.0 576.8 1560.5 580.3 1562.0 577.2 1563.5 577.6 1565.0 581.2 1566.5 576.8 1568.0 580.2 1569.5 574.8 1571.0 580.1 1572.5 574.2 1574.0 574.2 1575.5 578.0 1577.0 575.6 1578.5 578.3 1580.0 577.6 1581.5 575.8 1583.0 574.0 1584.5 575.0 1586.0 578.2 1587.5 573.2 1589.0 574.4 1590.5 577.9 1592.0 572.4 1593.5 574.1 1595.0 577.8 1596.5 571.5 1598.0 576.4 1599.5 573.6 1601.0 576.4 1602.5 571.4 1604.0 572.9 1605.5 576.3 1607.0 572.0 1608.5 576.0 1610.0 572.5 1611.5 573.5 1613.0 571.1 1614.5 575.0 1616.0 571.0 1617.5 573.4 1619.0 569.4 1620.5 572.1 1622.0 570.2 1623.5 574.6 1625.0 572.0 1626.5 570.7 1628.0 574.2 1629.5 568.3 1631.0 570.9 1632.5 568.7 1634.0 572.2 1635.5 568.4 1637.0 572.3 1638.5 569.2 1640.0 571.1 1641.5 568.2 1643.0 567.0 1644.5 570.2 1646.0 567.9 1647.5 570.6 1649.0 567.2 1650.5 570.2 1652.0 566.9 1653.5 569.9 1655.0 571.2 1656.5 565.2 1658.0 570.2 1659.5 565.7 1661.0 570.5 1662.5 563.9 1664.0 567.5 1665.5 563.6 1667.0 569.3 1668.5 568.9 1670.0 563.3 1671.5 567.8 1673.0 569.5 1674.5 564.3 1676.0 566.6 1677.5 565.0 1679.0 566.5 1680.5 562.6 1682.0 567.8 1683.5 561.8 1685.0 567.3 1686.5 564.2 1688.0 567.8 1689.5 568.0 1691.0 562.5 1692.5 561.8 1694.0 565.2 1695.5 562.5 1697.0 561.6 1698.5 564.9 1700.0 561.6 1701.5 565.0 1703.0 561.4 1704.5 564.1 1706.0 561.3 1707.5 559.6 1709.0 566.2 1710.5 561.0 1712.0 560.5 1713.5 564.7 1715.0 560.0 1716.5 563.3 1718.0 559.8 1719.5 564.6 1721.0 560.2 1722.5 564.1 1724.0 563.9 1725.5 560.3 1727.0 562.7 1728.5 560.5 1730.0 562.8 1731.5 558.0 1733.0 562.3 1734.5 562.0 1736.0 556.8 1737.5 562.3 1739.0 557.0 1740.5 560.3 1742.0 558.6 1743.5 563.1 1745.0 558.7 1746.5 560.4 1748.0 559.9 1749.5 559.6 1751.0 558.5 1752.5 560.4 1754.0 557.8 1755.5 560.1 1757.0 555.0 1758.5 558.8 1760.0 556.9 1761.5 560.9 1763.0 555.3 1764.5 558.5 1766.0 556.8 1767.5 560.7 1769.0 554.4 1770.5 559.4 1772.0 553.9 1773.5 558.9 1775.0 554.4 1776.5 559.7 1778.0 559.6 1779.5 553.4 1781.0 552.7 1782.5 557.2 1784.0 554.7 1785.5 558.7 1787.0 553.9 1788.5 558.8 1790.0 556.2 1791.5 552.2 1793.0 558.4 1794.5 551.8 1796.0 558.5 1797.5 554.4 1799.0 556.2 1800.5 552.5 1802.0 557.0 1803.5 551.0 1805.0 555.7 1806.5 551.5 1808.0 557.2 1809.5 554.7 1811.0 551.8 1812.5 557.6 1814.0 551.0 1815.5 557.1 1817.0 550.6 1818.5 554.5 1820.0 549.7 1821.5 554.6 1823.0 551.3 1824.5 554.9 1826.0 551.8 1827.5 553.5 1829.0 555.8 1830.5 551.3 1832.0 554.5 1833.5 549.1 1835.0 554.5 1836.5 553.2 1838.0 549.2 1839.5 552.3 1841.0 549.6 1842.5 553.5 1844.0 553.0 1845.5 550.4 1847.0 554.6 1848.5 549.7 1850.0 554.7 1851.5 549.8 1853.0 554.6 1854.5 547.1 1856.0 553.1 1857.5 549.5 1859.0 553.0 1860.5 551.1 1862.0 546.1 1863.5 552.8 1865.0 552.2 1866.5 546.2 1868.0 546.6 1869.5 551.5 1871.0 548.2 1872.5 552.8 1874.0 545.7 1875.5 549.8 1877.0 548.2 1878.5 550.7 1880.0 544.8 1881.5 550.9 1883.0 545.0 1884.5 551.3 1886.0 546.3 1887.5 551.6 1889.0 545.1 1890.5 550.4 1892.0 544.7 1893.5 545.2 1895.0 551.6 1896.5 546.5 1898.0 550.7 1899.5 545.6 1901.0 551.1 1902.5 544.1 1904.0 547.6 1905.5 544.5 1907.0 549.6 1908.5 549.5 1910.0 543.8 1911.5 548.2 1913.0 544.3 1914.5 547.4 1916.0 542.8 1917.5 549.1 1919.0 546.9 1920.5 542.9 1922.0 546.4 1923.5 542.4 1925.0 548.1 1926.5 543.3 1928.0 545.9 1929.5 543.2 1931.0 547.6 1932.5 541.6 1934.0 548.6 1935.5 545.9 1937.0 546.0 1938.5 542.4 1940.0 540.7 1941.5 545.6 1943.0 541.0 1944.5 546.6 1946.0 541.1 1947.5 547.7 1949.0 541.6 1950.5 547.1 1952.0 542.6 1953.5 547.9 1955.0 541.0 1956.5 547.8 1958.0 542.9 1959.5 547.7 1961.0 539.5 1962.5 544.7 1964.0 545.3 1965.5 539.5 1967.0 546.3 1968.5 538.8 1970.0 546.2 1971.5 540.2 1973.0 545.7 1974.5 545.6 1976.0 546.4 1977.5 546.6 1979.0 538.6 1980.5 546.4 1982.0 538.6 1983.5 543.9 1985.0 537.9 1986.5 544.9 1988.0 539.2 1989.5 545.1 1991.0 541.9 1992.5 537.3 1994.0 542.3 1995.5 538.0 1997.0 543.4 1998.5 538.9 2000.0 543.9 2001.5 536.6 2003.0 545.2 2004.5 539.7 2006.0 542.1 2007.5 535.9 2009.0 541.3 2010.5 539.4 2012.0 541.6 2013.5 537.7 2015.0 541.4 2016.5 536.5 2018.0 544.6 2019.5 543.8 2021.0 535.5 2022.5 543.0 2024.0 536.7 2025.5 538.3 2027.0 536.3 2028.5 541.9 2030.0 540.2 2031.5 538.4 2033.0 540.7 2034.5 536.2 2036.0 540.2 2037.5 535.5 2039.0 542.8 2040.5 537.6 2042.0 540.6 2043.5 534.5 2045.0 540.7 2046.5 536.9 2048.0 540.1 2049.5 537.4 2051.0 539.8 2052.5 534.7 2054.0 541.2 2055.5 535.3 2057.0 538.6 2058.5 533.4 2060.0 538.9 2061.5 541.2 2063.0 538.8 2064.5 533.8 2066.0 539.7 2067.5 532.9 2069.0 539.0 2070.5 533.9 2072.0 541.2" stroke="#9000ff"/>
<path d="M234.8 1300.0L235.5 1210.0 236.5 1408.0 237.5 1240.0 238.5 1400.0 239.5 1260.0 240.5 1390.0 241.5 1280.0 242.5 1380.0 243.5 1290.0 244.5 1350.0 245.0 1333.4 246.5 1293.7 248.0 1332.0 249.5 1292.8 251.0 1332.5 252.5 1297.2 254.0 1328.6 255.5 1299.5 257.0 1330.7 258.5 1289.5 260.0 1335.5 261.5 1291.2 263.0 1333.7 264.5 1300.3 266.0 1328.3 267.5 1295.9 269.0 1322.6 270.5 1296.5 272.0 1322.3 273.5 1292.2 275.0 1311.9 276.5 1292.2 278.0 1311.8 279.5 1281.4 281.0 1301.0 282.5 1282.6 284.0 1300.2 285.5 1275.4 287.0 1296.0 288.5 1271.5 290.0 1294.1 291.5 1269.9 293.0 1289.1 294.5 1263.3 296.0 1280.1 297.5 1260.3 299.0 1276.4 300.5 1256.9 302.0 1274.5 303.5 1244.8 305.0 1260.7 306.5 1237.0 308.0 1256.6 309.5 1231.8 311.0 1245.4 312.5 1224.0 314.0 1241.1 315.5 1215.5 317.0 1230.2 318.5 1206.0 320.0 1219.5 321.5 1202.7 323.0 1215.6 324.5 1191.5 326.0 1207.3 327.5 1181.7 329.0 1195.7 330.5 1181.8 332.0 1193.3 333.5 1176.4 335.0 1189.4 336.5 1176.4 338.0 1188.5 339.5 1171.6 341.0 1185.3 342.5 1170.1 344.0 1186.1 345.5 1170.0 347.0 1184.8 348.5 1173.6 350.0 1189.0 351.5 1181.7 353.0 1198.3 354.5 1191.8 356.0 1209.5 357.5 1201.5 359.0 1215.5 360.5 1207.2 362.0 1226.0 363.5 1214.3 365.0 1229.6 366.5 1222.2 368.0 1240.2 369.5 1229.2 371.0 1246.6 372.5 1238.5 374.0 1252.7 375.5 1242.1 377.0 1257.1 378.5 1249.5 380.0 1263.6 381.5 1256.6 383.0 1268.8 384.5 1262.2 386.0 1277.8 387.5 1264.7 389.0 1283.6 390.5 1271.0 392.0 1286.5 393.5 1276.7 395.0 1292.2 396.5 1285.2 398.0 1297.6 399.5 1289.3 401.0 1305.1 402.5 1292.7 404.0 1307.3 405.5 1298.8 407.0 1315.9 408.5 1304.9 410.0 1323.1 411.5 1314.6 413.0 1329.3 414.5 1319.2 416.0 1333.9 417.5 1325.6 419.0 1342.3 420.5 1338.2 422.0 1336.1 423.5 1349.8 425.0 1345.2 426.5 1357.6 428.0 1350.9 429.5 1361.9 431.0 1353.1 432.5 1362.2 434.0 1358.5 435.5 1357.0 437.0 1367.4 438.5 1364.4 440.0 1373.7 441.5 1366.0 443.0 1375.7 444.5 1368.9 446.0 1377.0 447.5 1367.3 449.0 1380.8 450.5 1369.6 452.0 1369.5 453.5 1376.9 455.0 1379.4 456.5 1369.6 458.0 1383.7 459.5 1369.7 461.0 1380.3 462.5 1372.2 464.0 1376.5 465.5 1368.2 467.0 1373.8 468.5 1375.2 470.0 1366.6 471.5 1375.1 473.0 1366.4 474.5 1377.5 476.0 1369.8 477.5 1376.9 479.0 1369.1 480.5 1367.4 482.0 1370.7 483.5 1363.2 485.0 1370.2 486.5 1363.3 488.0 1364.9 489.5 1358.5 491.0 1363.1 492.5 1352.9 494.0 1361.1 495.5 1351.5 497.0 1355.6 498.5 1347.3 500.0 1354.5 501.5 1340.8 503.0 1337.9 504.5 1343.3 506.0 1335.6 507.5 1339.9 509.0 1329.1 510.5 1331.1 512.0 1326.6 513.5 1328.2 515.0 1324.8 516.5 1314.3 518.0 1315.2 519.5 1307.9 521.0 1312.1 522.5 1296.6 524.0 1305.6 525.5 1298.2 527.0 1287.3 528.5 1290.6 530.0 1281.9 531.5 1282.8 533.0 1272.3 534.5 1280.9 536.0 1265.2 537.5 1273.4 539.0 1269.8 540.5 1267.8 542.0 1255.4 543.5 1254.7 545.0 1245.6 546.5 1238.3 548.0 1248.1 549.5 1235.1 551.0 1226.2 552.5 1234.0 554.0 1217.4 555.5 1221.7 557.0 1216.1 558.5 1202.9 560.0 1207.5 561.5 1196.6 563.0 1193.8 564.5 1190.4 566.0 1184.6 567.5 1168.3 569.0 1171.6 570.5 1160.5 572.0 1167.9 573.5 1160.6 575.0 1148.9 576.5 1148.5 578.0 1135.8 579.5 1140.1 581.0 1122.7 582.5 1124.7 584.0 1121.0 585.5 1115.0 587.0 1113.8 588.5 1098.6 590.0 1100.2 591.5 1089.0 593.0 1090.6 594.5 1087.8 596.0 1077.5 597.5 1072.2 599.0 1066.1 600.5 1069.3 602.0 1062.3 603.5 1062.3 605.0 1052.7 606.5 1057.0 608.0 1043.9 609.5 1049.6 611.0 1035.7 612.5 1035.4 614.0 1027.7 615.5 1028.1 617.0 1029.4 618.5 1018.5 620.0 1018.0 621.5 1015.1 623.0 1005.4 624.5 1009.9 626.0 998.5 627.5 993.1 629.0 999.5 630.5 986.7 632.0 991.3 633.5 982.3 635.0 981.2 636.5 985.0 638.0 976.8 639.5 967.8 641.0 970.6 642.5 961.1 644.0 966.3 645.5 963.2 647.0 949.5 648.5 948.0 650.0 949.1 651.5 940.3 653.0 939.6 654.5 933.5 656.0 928.3 657.5 931.3 659.0 921.5 660.5 918.8 662.0 918.6 663.5 910.5 665.0 917.4 666.5 902.2 668.0 905.7 669.5 904.5 671.0 897.3 672.5 896.2 674.0 890.1 675.5 882.6 677.0 888.3 678.5 887.5 680.0 877.5 681.5 879.3 683.0 876.4 684.5 869.3 686.0 866.7 687.5 859.0 689.0 859.5 690.5 848.4 692.0 853.2 693.5 837.7 695.0 845.0 696.5 831.9 698.0 834.6 699.5 829.1 701.0 828.8 702.5 826.2 704.0 817.1 705.5 822.5 707.0 819.1 708.5 817.7 710.0 810.3 711.5 803.2 713.0 810.4 714.5 798.2 716.0 802.0 717.5 802.6 719.0 795.1 720.5 790.5 722.0 795.0 723.5 786.7 725.0 789.7 726.5 789.2 728.0 777.3 729.5 785.0 731.0 773.6 732.5 782.4 734.0 770.7 735.5 776.8 737.0 774.1 738.5 767.1 740.0 766.0 741.5 766.5 743.0 762.1 744.5 762.6 746.0 754.7 747.5 762.5 749.0 754.3 750.5 758.6 752.0 747.1 753.5 754.7 755.0 752.2 756.5 743.3 758.0 742.4 759.5 745.4 761.0 740.6 762.5 742.5 764.0 741.3 765.5 732.0 767.0 736.3 768.5 731.0 770.0 734.0 771.5 732.0 773.0 722.6 774.5 727.0 776.0 719.5 777.5 723.8 779.0 716.6 780.5 714.6 782.0 719.9 783.5 714.3 785.0 710.4 786.5 709.0 788.0 713.7 789.5 706.8 791.0 713.0 792.5 703.5 794.0 705.3 795.5 702.2 797.0 708.4 798.5 700.2 800.0 705.1 801.5 700.2 803.0 703.4 804.5 697.5 806.0 696.2 807.5 698.2 809.0 694.5 810.5 691.2 812.0 692.1 813.5 692.3 815.0 689.9 816.5 692.8 818.0 685.0 819.5 688.2 821.0 684.1 822.5 688.1 824.0 680.0 825.5 686.3 827.0 677.6 828.5 679.1 830.0 682.0 831.5 674.2 833.0 679.2 834.5 678.1 836.0 675.0 837.5 675.3 839.0 672.8 840.5 673.9 842.0 669.9 843.5 674.1 845.0 670.0 846.5 671.3 848.0 666.5 849.5 665.1 851.0 665.3 852.5 668.2 854.0 663.0 855.5 668.5 857.0 661.5 858.5 666.3 860.0 660.1 861.5 665.6 863.0 659.8 864.5 662.1 866.0 660.6 867.5 657.3 869.0 660.9 870.5 659.4 872.0 656.2 873.5 658.5 875.0 653.5 876.5 656.8 878.0 656.0 879.5 656.0 881.0 654.6 882.5 651.7 884.0 655.2 885.5 649.5 887.0 653.6 888.5 649.7 890.0 647.2 891.5 651.8 893.0 647.0 894.5 649.7 896.0 644.6 897.5 645.2 899.0 647.4 900.5 643.6 902.0 646.7 903.5 642.1 905.0 640.7 906.5 645.2 908.0 640.2 909.5 644.6 911.0 643.2 912.5 640.1 914.0 641.5 915.5 636.3 917.0 639.3 918.5 639.6 920.0 638.2 921.5 634.7 923.0 636.1 924.5 637.9 926.0 634.1 927.5 635.0 929.0 632.0 930.5 635.7 932.0 631.6 933.5 630.0 935.0 631.4 936.5 631.6 938.0 630.5 939.5 627.6 941.0 630.0 942.5 627.7 944.0 629.0 945.5 625.5 947.0 629.2 948.5 626.0 950.0 625.0 951.5 625.7 953.0 627.2 954.5 624.2 956.0 626.1 957.5 621.9 959.0 624.3 960.5 619.7 962.0 622.3 963.5 622.0 965.0 619.3 966.5 622.6 968.0 618.8 969.5 619.8 971.0 617.8 972.5 616.8 974.0 615.2 975.5 619.2 977.0 615.4 978.5 614.2 980.0 615.4 981.5 617.2 983.0 614.4 984.5 615.2 986.0 612.2 987.5 612.0 989.0 613.5 990.5 612.7 992.0 613.6 993.5 610.0 995.0 613.0 996.5 612.5 998.0 608.5 999.5 612.5 1001.0 607.2 1002.5 610.4 1004.0 606.9 1005.5 609.2 1007.0 607.9 1008.5 609.1 1010.0 608.0 1011.5 605.8 1013.0 607.8 1014.5 604.6 1016.0 607.3 1017.5 603.2 1019.0 606.8 1020.5 603.7 1022.0 604.2 1023.5 605.9 1025.0 602.4 1026.5 604.0 1028.0 603.5 1029.5 600.4 1031.0 602.3 1032.5 599.3 1034.0 602.6 1035.5 601.7 1037.0 598.6 1038.5 597.5 1040.0 601.4 1041.5 596.6 1043.0 598.7 1044.5 596.5 1046.0 599.4 1047.5 596.1 1049.0 597.3 1050.5 598.6 1052.0 598.7 1053.5 595.7 1055.0 595.7 1056.5 594.1 1058.0 597.2 1059.5 594.7 1061.0 592.7 1062.5 593.5 1064.0 592.5 1065.5 593.2 1067.0 590.8 1068.5 594.8 1070.0 591.8 1071.5 594.0 1073.0 591.0 1074.5 592.5 1076.0 588.5 1077.5 588.2 1079.0 590.9 1080.5 591.5 1082.0 587.4 1083.5 586.9 1085.0 587.0 1086.5 590.1 1088.0 585.6 1089.5 588.2 1091.0 586.9 1092.5 585.0 1094.0 585.8 1095.5 586.9 1097.0 586.0 1098.5 586.8 1100.0 586.5 1101.5 584.4 1103.0 585.7 1104.5 582.4 1106.0 582.1 1107.5 584.2 1109.0 581.3 1110.5 581.6 1112.0 583.5 1113.5 580.3 1115.0 584.2 1116.5 584.4 1118.0 582.6 1119.5 579.6 1121.0 582.0 1122.5 578.7 1124.0 578.7 1125.5 580.9 1127.0 578.6 1128.5 581.7 1130.0 577.1 1131.5 578.6 1133.0 580.7 1134.5 577.4 1136.0 578.6 1137.5 576.8 1139.0 579.8 1140.5 576.8 1142.0 579.2 1143.5 575.1 1145.0 577.9 1146.5 573.9 1148.0 577.4 1149.5 576.1 1151.0 573.0 1152.5 574.3 1154.0 572.4 1155.5 574.8 1157.0 571.8 1158.5 573.8 1160.0 573.1 1161.5 575.3 1163.0 572.1 1164.5 573.6 1166.0 570.4 1167.5 572.5 1169.0 572.8 1170.5 570.9 1172.0 574.0 1173.5 569.2 1175.0 572.5 1176.5 570.3 1178.0 570.4 1179.5 571.7 1181.0 572.1 1182.5 569.2 1184.0 570.8 1185.5 569.6 1187.0 570.4 1188.5 568.4 1190.0 569.4 1191.5 570.1 1193.0 566.9 1194.5 568.3 1196.0 566.3 1197.5 567.7 1199.0 566.4 1200.5 568.7 1202.0 565.6 1203.5 568.4 1205.0 564.2 1206.5 566.6 1208.0 565.0 1209.5 564.5 1211.0 564.8 1212.5 567.1 1214.0 566.5 1215.5 563.9 1217.0 564.7 1218.5 561.9 1220.0 565.3 1221.5 562.6 1223.0 564.6 1224.5 560.4 1226.0 563.4 1227.5 562.5 1229.0 560.7 1230.5 561.7 1232.0 562.1 1233.5 560.8 1235.0 559.4 1236.5 562.9 1238.0 562.6 1239.5 560.2 1241.0 560.0 1242.5 559.3 1244.0 560.9 1245.5 557.8 1247.0 558.1 1248.5 561.3 1250.0 557.9 1251.5 556.5 1253.0 556.6 1254.5 560.9 1256.0 556.3 1257.5 558.6 1259.0 556.6 1260.5 560.0 1262.0 557.2 1263.5 557.1 1265.0 554.4 1266.5 558.1 1268.0 557.8 1269.5 553.6 1271.0 557.9 1272.5 554.1 1274.0 556.7 1275.5 553.2 1277.0 557.1 1278.5 552.5 1280.0 554.4 1281.5 552.1 1283.0 555.2 1284.5 554.3 1286.0 551.6 1287.5 552.8 1289.0 555.3 1290.5 552.7 1292.0 554.9 1293.5 550.2 1295.0 552.9 1296.5 550.8 1298.0 554.2 1299.5 553.4 1301.0 550.4 1302.5 551.6 1304.0 553.1 1305.5 548.9 1307.0 551.7 1308.5 548.0 1310.0 549.1 1311.5 548.9 1313.0 549.8 1314.5 548.1 1316.0 551.5 1317.5 549.5 1319.0 549.0 1320.5 547.1 1322.0 548.7 1323.5 548.0 1325.0 549.6 1326.5 547.1 1328.0 550.2 1329.5 547.9 1331.0 547.0 1332.5 548.0 1334.0 548.2 1335.5 546.7 1337.0 544.8 1338.5 543.9 1340.0 544.1 1341.5 547.5 1343.0 545.0 1344.5 546.4 1346.0 543.6 1347.5 544.2 1349.0 546.5 1350.5 542.5 1352.0 546.0 1353.5 541.8 1355.0 546.1 1356.5 541.6 1358.0 540.7 1359.5 545.4 1361.0 540.9 1362.5 541.1 1364.0 544.8 1365.5 542.4 1367.0 544.6 1368.5 539.4 1370.0 542.5 1371.5 543.4 1373.0 540.1 1374.5 539.3 1376.0 542.5 1377.5 539.7 1379.0 540.3 1380.5 540.7 1382.0 537.4 1383.5 542.2 1385.0 540.0 1386.5 539.2 1388.0 538.6 1389.5 539.7 1391.0 538.9 1392.5 539.9 1394.0 539.8 1395.5 536.0 1397.0 538.2 1398.5 536.8 1400.0 538.6 1401.5 534.8 1403.0 538.4 1404.5 539.3 1406.0 535.7 1407.5 534.4 1409.0 536.2 1410.5 538.5 1412.0 536.9 1413.5 534.8 1415.0 536.1 1416.5 533.9 1418.0 536.9 1419.5 537.1 1421.0 535.7 1422.5 537.2 1424.0 533.1 1425.5 535.8 1427.0 531.4 1428.5 532.8 1430.0 530.8 1431.5 534.8 1433.0 534.6 1434.5 535.3 1436.0 530.0 1437.5 532.7 1439.0 531.9 1440.5 534.0 1442.0 531.0 1443.5 533.8 1445.0 529.9 1446.5 531.8 1448.0 528.6 1449.5 528.5 1451.0 528.5 1452.5 528.0 1454.0 527.5 1455.5 528.8 1457.0 527.2 1458.5 531.7 1460.0 531.9 1461.5 528.8 1463.0 530.7 1464.5 526.8 1466.0 530.3 1467.5 525.8 1469.0 528.3 1470.5 527.0 1472.0 528.6 1473.5 525.7 1475.0 529.3 1476.5 526.3 1478.0 527.9 1479.5 527.6 1481.0 525.1 1482.5 525.5 1484.0 526.1 1485.5 525.5 1487.0 526.0 1488.5 523.1 1490.0 522.9 1491.5 527.3 1493.0 524.0 1494.5 525.6 1496.0 524.1 1497.5 526.1 1499.0 525.1 1500.5 521.3 1502.0 523.2 1503.5 520.8 1505.0 525.4 1506.5 525.7 1508.0 525.3 1509.5 521.2 1511.0 523.8 1512.5 521.0 1514.0 522.1 1515.5 519.2 1517.0 523.7 1518.5 518.9 1520.0 522.6 1521.5 523.0 1523.0 517.6 1524.5 522.0 1526.0 519.3 1527.5 520.7 1529.0 519.3 1530.5 522.4 1532.0 518.4 1533.5 520.3 1535.0 516.1 1536.5 515.7 1538.0 521.0 1539.5 515.2 1541.0 519.0 1542.5 517.4 1544.0 515.5 1545.5 519.1 1547.0 515.2 1548.5 518.0 1550.0 515.2 1551.5 517.4 1553.0 513.8 1554.5 517.3 1556.0 515.3 1557.5 518.2 1559.0 514.1 1560.5 516.5 1562.0 512.2 1563.5 513.0 1565.0 516.3 1566.5 513.1 1568.0 515.1 1569.5 512.8 1571.0 516.9 1572.5 511.6 1574.0 516.3 1575.5 511.7 1577.0 513.9 1578.5 509.8 1580.0 512.0 1581.5 510.1 1583.0 513.6 1584.5 509.6 1586.0 512.7 1587.5 510.5 1589.0 512.8 1590.5 512.9 1592.0 509.7 1593.5 513.0 1595.0 508.7 1596.5 511.2 1598.0 512.6 1599.5 511.9 1601.0 509.3 1602.5 506.3 1604.0 511.4 1605.5 507.5 1607.0 510.8 1608.5 508.0 1610.0 505.3 1611.5 510.1 1613.0 505.5 1614.5 510.0 1616.0 505.9 1617.5 509.9 1619.0 506.3 1620.5 509.6 1622.0 503.6 1623.5 510.0 1625.0 504.1 1626.5 507.3 1628.0 509.1 1629.5 505.0 1631.0 506.3 1632.5 507.7 1634.0 503.2 1635.5 502.5 1637.0 505.5 1638.5 503.4 1640.0 507.1 1641.5 503.2 1643.0 505.0 1644.5 504.5 1646.0 501.4 1647.5 506.0 1649.0 502.1 1650.5 501.4 1652.0 504.9 1653.5 502.2 1655.0 506.0 1656.5 500.2 1658.0 505.0 1659.5 504.6 1661.0 499.7 1662.5 502.6 1664.0 501.1 1665.5 498.5 1667.0 502.8 1668.5 500.3 1670.0 502.5 1671.5 499.5 1673.0 501.9 1674.5 499.2 1676.0 502.2 1677.5 497.1 1679.0 497.9 1680.5 501.5 1682.0 497.6 1683.5 502.7 1685.0 498.9 1686.5 502.3 1688.0 496.4 1689.5 496.6 1691.0 500.9 1692.5 499.0 1694.0 495.7 1695.5 500.3 1697.0 497.4 1698.5 494.8 1700.0 499.5 1701.5 495.7 1703.0 498.7 1704.5 494.1 1706.0 500.1 1707.5 495.5 1709.0 497.0 1710.5 495.8 1712.0 498.7 1713.5 494.6 1715.0 497.1 1716.5 493.0 1718.0 497.9 1719.5 498.6 1721.0 493.4 1722.5 498.3 1724.0 491.5 1725.5 493.7 1727.0 492.4 1728.5 495.7 1730.0 494.0 1731.5 496.1 1733.0 493.0 1734.5 492.8 1736.0 494.8 1737.5 490.8 1739.0 492.4 1740.5 495.9 1742.0 493.9 1743.5 492.5 1745.0 496.4 1746.5 491.0 1748.0 494.9 1749.5 490.0 1751.0 493.4 1752.5 491.2 1754.0 492.6 1755.5 494.6 1757.0 489.7 1758.5 494.1 1760.0 488.1 1761.5 494.6 1763.0 493.2 1764.5 489.0 1766.0 491.4 1767.5 487.0 1769.0 487.2 1770.5 493.6 1772.0 493.3 1773.5 487.7 1775.0 490.9 1776.5 487.8 1778.0 486.1 1779.5 488.5 1781.0 489.9 1782.5 488.2 1784.0 491.7 1785.5 487.5 1787.0 489.3 1788.5 487.6 1790.0 489.5 1791.5 487.7 1793.0 489.1 1794.5 486.9 1796.0 486.1 1797.5 489.1 1799.0 486.3 1800.5 490.3 1802.0 487.9 1803.5 485.7 1805.0 488.2 1806.5 490.2 1808.0 484.5 1809.5 483.9 1811.0 489.2 1812.5 483.9 1814.0 484.7 1815.5 489.5 1817.0 482.0 1818.5 486.6 1820.0 482.8 1821.5 489.1 1823.0 483.0 1824.5 485.8 1826.0 481.9 1827.5 487.4 1829.0 482.5 1830.5 485.5 1832.0 481.6 1833.5 485.0 1835.0 481.4 1836.5 480.9 1838.0 482.4 1839.5 484.2 1841.0 487.5 1842.5 481.8 1844.0 486.8 1845.5 480.8 1847.0 481.0 1848.5 480.6 1850.0 485.4 1851.5 484.9 1853.0 481.4 1854.5 484.3 1856.0 481.0 1857.5 483.8 1859.0 478.6 1860.5 485.1 1862.0 480.2 1863.5 485.5 1865.0 477.8 1866.5 481.9 1868.0 479.2 1869.5 484.7 1871.0 479.8 1872.5 479.8 1874.0 482.2 1875.5 478.5 1877.0 484.1 1878.5 478.1 1880.0 477.9 1881.5 477.3 1883.0 483.0 1884.5 478.9 1886.0 480.7 1887.5 475.4 1889.0 480.5 1890.5 477.5 1892.0 475.7 1893.5 477.5 1895.0 480.7 1896.5 477.6 1898.0 480.9 1899.5 475.1 1901.0 481.6 1902.5 474.2 1904.0 474.5 1905.5 480.4 1907.0 480.8 1908.5 478.5 1910.0 477.0 1911.5 481.0 1913.0 473.6 1914.5 479.7 1916.0 476.5 1917.5 478.5 1919.0 480.3 1920.5 478.0 1922.0 472.3 1923.5 478.2 1925.0 472.6 1926.5 478.2 1928.0 473.9 1929.5 479.9 1931.0 471.5 1932.5 479.9 1934.0 474.2 1935.5 476.8 1937.0 474.6 1938.5 479.3 1940.0 471.1 1941.5 471.4 1943.0 472.1 1944.5 476.3 1946.0 472.9 1947.5 478.3 1949.0 470.3 1950.5 474.7 1952.0 471.5 1953.5 475.6 1955.0 477.9 1956.5 469.3 1958.0 476.3 1959.5 472.5 1961.0 475.0 1962.5 470.9 1964.0 469.2 1965.5 475.2 1967.0 469.6 1968.5 475.1 1970.0 470.0 1971.5 470.8 1973.0 474.0 1974.5 468.0 1976.0 472.9 1977.5 475.2 1979.0 469.2 1980.5 474.7 1982.0 467.2 1983.5 473.9 1985.0 467.7 1986.5 468.5 1988.0 475.4 1989.5 471.6 1991.0 467.9 1992.5 467.6 1994.0 473.0 1995.5 469.8 1997.0 472.5 1998.5 471.8 2000.0 468.9 2001.5 471.3 2003.0 465.7 2004.5 468.0 2006.0 467.9 2007.5 471.2 2009.0 468.6 2010.5 471.1 2012.0 473.8 2013.5 467.0 2015.0 467.7 2016.5 470.2 2018.0 470.1 2019.5 468.0 2021.0 464.1 2022.5 465.8 2024.0 467.3 2025.5 469.1 2027.0 467.5 2028.5 469.3 2030.0 471.9 2031.5 465.5 2033.0 468.7 2034.5 465.4 2036.0 463.9 2037.5 468.1 2039.0 470.9 2040.5 471.0 2042.0 463.4 2043.5 470.6 2045.0 470.9 2046.5 463.6 2048.0 468.6 2049.5 470.0 2051.0 463.1 2052.5 469.4 2054.0 465.0 2055.5 467.0 2057.0 468.2 2058.5 462.6 2060.0 469.0 2061.5 463.6 2063.0 468.9 2064.5 464.8 2066.0 463.6 2067.5 464.6 2069.0 468.6 2070.5 460.6 2072.0 469.5" stroke="#008000"/>
<path d="M234.8 1000.0L235.5 831.0 236.5 1000.0 237.3 880.0 238.2 1102.0 239.0 940.0 240.0 1080.0 240.8 960.0 241.0 1000.9 242.5 944.1 244.0 1012.7 245.5 963.6 247.0 1005.4 248.5 944.4 250.0 1000.2 251.5 957.1 253.0 1011.7 254.5 947.5 256.0 1012.6 257.5 924.7 259.0 1016.4 260.5 940.0 262.0 993.8 263.5 954.2 265.0 987.3 266.5 951.6 268.0 993.3 269.5 947.9 271.0 979.5 272.5 937.4 274.0 990.4 275.5 948.9 277.0 977.3 278.5 938.4 280.0 977.2 281.5 950.0 283.0 989.8 284.5 945.5 286.0 989.1 287.5 973.9 289.0 1000.0 290.5 989.3 292.0 1014.3 293.5 1003.6 295.0 1026.0 296.5 1009.3 298.0 1035.8 299.5 1018.9 301.0 1044.3 302.5 1026.4 304.0 1056.2 305.5 1043.4 307.0 1073.2 308.5 1057.9 310.0 1081.6 311.5 1073.6 313.0 1099.0 314.5 1083.6 316.0 1108.0 317.5 1096.9 319.0 1116.7 320.5 1108.1 322.0 1131.8 323.5 1118.6 325.0 1142.9 326.5 1126.4 328.0 1156.1 329.5 1138.3 331.0 1162.0 332.5 1153.1 334.0 1179.3 335.5 1163.0 337.0 1184.9 338.5 1172.0 340.0 1188.4 341.5 1178.4 343.0 1195.9 344.5 1186.0 346.0 1198.5 347.5 1190.0 349.0 1206.3 350.5 1197.4 352.0 1215.2 353.5 1205.2 355.0 1221.7 356.5 1211.5 358.0 1226.9 359.5 1216.1 361.0 1237.4 362.5 1227.1 364.0 1241.1 365.5 1229.7 367.0 1248.3 368.5 1238.9 370.0 1250.7 371.5 1241.5 373.0 1255.0 374.5 1245.6 376.0 1263.4 377.5 1248.5 379.0 1267.2 380.5 1256.8 382.0 1268.3 383.5 1259.0 385.0 1275.8 386.5 1261.2 388.0 1277.7 389.5 1268.4 391.0 1282.4 392.5 1272.2 394.0 1285.8 395.5 1273.7 397.0 1290.1 398.5 1280.7 400.0 1294.8 401.5 1286.5 403.0 1297.6 404.5 1290.6 406.0 1302.7 407.5 1295.0 409.0 1306.6 410.5 1296.9 412.0 1311.6 413.5 1302.4 415.0 1313.9 416.5 1308.1 418.0 1322.5 419.5 1308.3 421.0 1326.2 422.5 1314.4 424.0 1330.0 425.5 1317.6 427.0 1330.7 428.5 1321.7 430.0 1336.3 431.5 1326.7 433.0 1340.0 434.5 1328.8 436.0 1341.4 437.5 1334.3 439.0 1346.8 440.5 1334.7 442.0 1350.2 443.5 1338.8 445.0 1353.2 446.5 1342.0 448.0 1354.7 449.5 1346.2 451.0 1357.6 452.5 1344.5 454.0 1360.5 455.5 1350.3 457.0 1361.8 458.5 1351.5 460.0 1362.9 461.5 1349.2 463.0 1365.4 464.5 1352.5 466.0 1362.5 467.5 1353.8 469.0 1364.2 470.5 1354.9 472.0 1366.0 473.5 1351.2 475.0 1361.7 476.5 1354.4 478.0 1360.9 479.5 1351.3 481.0 1361.2 482.5 1353.7 484.0 1363.0 485.5 1350.4 487.0 1360.1 488.5 1353.7 490.0 1363.2 491.5 1360.0 493.0 1357.1 494.5 1359.5 496.0 1347.0 497.5 1357.7 499.0 1345.8 500.5 1357.1 502.0 1355.0 503.5 1353.6 505.0 1340.6 506.5 1344.9 508.0 1347.3 509.5 1343.7 511.0 1342.5 512.5 1350.6 514.0 1338.4 515.5 1345.6 517.0 1335.8 518.5 1341.7 520.0 1335.0 521.5 1340.3 523.0 1335.2 524.5 1329.7 526.0 1334.2 527.5 1332.7 529.0 1324.1 530.5 1328.7 532.0 1316.4 533.5 1322.0 535.0 1313.9 536.5 1310.6 538.0 1318.0 539.5 1308.5 541.0 1311.3 542.5 1301.6 544.0 1300.4 545.5 1294.0 547.0 1291.8 548.5 1283.1 550.0 1290.4 551.5 1278.9 553.0 1274.5 554.5 1278.6 556.0 1269.5 557.5 1273.2 559.0 1263.6 560.5 1265.3 562.0 1258.3 563.5 1262.6 565.0 1247.4 566.5 1251.0 568.0 1241.1 569.5 1239.4 571.0 1227.0 572.5 1227.8 574.0 1217.3 575.5 1210.9 577.0 1215.8 578.5 1208.5 580.0 1198.5 581.5 1193.6 583.0 1196.4 584.5 1193.0 586.0 1177.8 587.5 1174.5 589.0 1168.9 590.5 1172.7 592.0 1162.2 593.5 1161.1 595.0 1148.6 596.5 1149.1 598.0 1138.4 599.5 1137.6 601.0 1124.1 602.5 1128.9 604.0 1117.8 605.5 1115.4 607.0 1103.4 608.5 1108.1 610.0 1092.3 611.5 1093.5 613.0 1087.1 614.5 1073.3 616.0 1070.7 617.5 1055.7 619.0 1057.2 620.5 1039.6 622.0 1041.4 623.5 1024.2 625.0 1018.6 626.5 1013.8 628.0 1000.1 629.5 998.9 631.0 986.1 632.5 983.8 634.0 969.4 635.5 964.5 637.0 964.3 638.5 947.9 640.0 950.2 641.5 936.1 643.0 932.6 644.5 920.6 646.0 910.0 647.5 911.4 649.0 894.9 650.5 894.1 652.0 882.8 653.5 884.1 655.0 874.6 656.5 861.9 658.0 855.9 659.5 839.0 661.0 832.4 662.5 822.9 664.0 807.6 665.5 806.1 667.0 796.6 668.5 795.8 670.0 778.8 671.5 781.3 673.0 765.3 674.5 765.7 676.0 751.2 677.5 749.5 679.0 735.6 680.5 736.0 682.0 722.2 683.5 717.6 685.0 703.3 686.5 705.9 688.0 688.4 689.5 690.1 691.0 673.8 692.5 668.6 694.0 666.2 695.5 653.3 697.0 653.5 698.5 639.4 700.0 635.0 701.5 623.3 703.0 621.7 704.5 607.3 706.0 598.4 707.5 602.6 709.0 589.3 710.5 590.8 712.0 579.8 713.5 578.3 715.0 569.2 716.5 559.1 718.0 555.7 719.5 544.3 721.0 541.4 722.5 529.8 724.0 534.8 725.5 523.5 727.0 522.6 728.5 517.3 730.0 519.9 731.5 511.4 733.0 501.4 734.5 503.8 736.0 492.5 737.5 494.9 739.0 491.5 740.5 481.1 742.0 485.6 743.5 474.6 745.0 480.9 746.5 472.1 748.0 475.4 749.5 461.7 751.0 466.3 752.5 454.8 754.0 449.4 755.5 453.0 757.0 446.2 758.5 446.5 760.0 438.2 761.5 441.8 763.0 434.1 764.5 440.1 766.0 436.0 767.5 424.5 769.0 426.1 770.5 427.8 772.0 417.5 773.5 419.8 775.0 412.7 776.5 416.4 778.0 409.6 779.5 411.6 781.0 412.3 782.5 411.4 784.0 401.8 785.5 403.7 787.0 395.6 788.5 399.5 790.0 392.9 791.5 393.3 793.0 399.6 794.5 392.1 796.0 395.3 797.5 387.1 799.0 392.1 800.5 386.6 802.0 390.6 803.5 385.3 805.0 380.9 806.5 387.4 808.0 380.4 809.5 382.3 811.0 387.4 812.5 380.0 814.0 385.3 815.5 379.4 817.0 381.1 818.5 376.6 820.0 379.8 821.5 380.2 823.0 377.0 824.5 380.4 826.0 372.1 827.5 375.3 829.0 377.8 830.5 369.9 832.0 369.5 833.5 376.6 835.0 368.8 836.5 375.9 838.0 369.1 839.5 375.3 841.0 366.5 842.5 373.7 844.0 373.4 845.5 371.2 847.0 367.9 848.5 363.8 850.0 371.8 851.5 362.2 853.0 368.6 854.5 364.5 856.0 363.3 857.5 365.0 859.0 366.5 860.5 360.2 862.0 365.4 863.5 362.0 865.0 358.6 866.5 358.0 868.0 362.0 869.5 359.5 871.0 354.5 872.5 354.3 874.0 360.5 875.5 355.1 877.0 356.6 878.5 352.9 880.0 359.0 881.5 351.0 883.0 354.9 884.5 354.2 886.0 349.2 887.5 354.0 889.0 351.4 890.5 354.9 892.0 351.3 893.5 354.8 895.0 348.8 896.5 351.0 898.0 347.8 899.5 350.6 901.0 346.5 902.5 352.0 904.0 346.2 905.5 347.6 907.0 347.5 908.5 349.8 910.0 345.5 911.5 348.5 913.0 345.2 914.5 348.5 916.0 343.5 917.5 348.3 919.0 341.4 920.5 345.6 922.0 347.2 923.5 343.2 925.0 342.3 926.5 346.2 928.0 346.3 929.5 339.1 931.0 341.2 932.5 340.9 934.0 339.7 935.5 342.9 937.0 337.7 938.5 341.7 940.0 337.9 941.5 337.7 943.0 337.7 944.5 342.1 946.0 336.3 947.5 339.2 949.0 336.8 950.5 339.5 952.0 335.3 953.5 338.9 955.0 334.5 956.5 334.9 958.0 335.5 959.5 338.2 961.0 335.1 962.5 336.5 964.0 332.7 965.5 335.2 967.0 333.3 968.5 335.6 970.0 330.6 971.5 334.6 973.0 331.6 974.5 333.2 976.0 329.2 977.5 332.7 979.0 331.3 980.5 333.0 982.0 330.0 983.5 332.3 985.0 328.2 986.5 330.0 988.0 329.3 989.5 331.5 991.0 327.9 992.5 326.7 994.0 329.1 995.5 327.4 997.0 325.2 998.5 327.4 1000.0 328.6 1001.5 326.9 1003.0 326.7 1004.5 323.6 1006.0 328.0 1007.5 324.5 1009.0 323.4 1010.5 325.0 1012.0 326.2 1013.5 322.6 1015.0 325.2 1016.5 322.3 1018.0 325.4 1019.5 322.0 1021.0 322.1 1022.5 323.2 1024.0 319.8 1025.5 322.7 1027.0 321.8 1028.5 323.4 1030.0 322.1 1031.5 321.2 1033.0 322.5 1034.5 319.0 1036.0 321.0 1037.5 321.7 1039.0 316.9 1040.5 320.4 1042.0 317.7 1043.5 319.8 1045.0 320.1 1046.5 314.8 1048.0 315.9 1049.5 318.0 1051.0 315.5 1052.5 316.4 1054.0 314.7 1055.5 314.1 1057.0 315.7 1058.5 315.4 1060.0 316.9 1061.5 313.8 1063.0 312.9 1064.5 314.7 1066.0 313.1 1067.5 314.9 1069.0 312.4 1070.5 313.7 1072.0 312.3 1073.5 313.8 1075.0 311.9 1076.5 310.2 1078.0 309.1 1079.5 311.0 1081.0 313.4 1082.5 308.1 1084.0 311.4 1085.5 307.7 1087.0 309.5 1088.5 311.4 1090.0 308.3 1091.5 306.2 1093.0 310.4 1094.5 308.1 1096.0 309.8 1097.5 307.3 1099.0 308.5 1100.5 304.8 1102.0 305.8 1103.5 306.5 1105.0 303.4 1106.5 305.8 1108.0 303.4 1109.5 305.9 1111.0 305.1 1112.5 304.1 1114.0 305.1 1115.5 302.7 1117.0 300.5 1118.5 302.9 1120.0 304.7 1121.5 300.4 1123.0 302.3 1124.5 300.7 1126.0 299.9 1127.5 298.2 1129.0 301.9 1130.5 301.7 1132.0 297.8 1133.5 300.5 1135.0 298.9 1136.5 299.3 1138.0 300.5 1139.5 295.9 1141.0 299.6 1142.5 295.6 1144.0 298.2 1145.5 299.0 1147.0 293.9 1148.5 298.2 1150.0 295.1 1151.5 296.8 1153.0 295.3 1154.5 294.4 1156.0 294.5 1157.5 293.2 1159.0 295.6 1160.5 292.9 1162.0 294.0 1163.5 293.4 1165.0 294.1 1166.5 293.4 1168.0 290.2 1169.5 289.4 1171.0 291.6 1172.5 291.0 1174.0 288.1 1175.5 287.8 1177.0 291.8 1178.5 291.1 1180.0 290.6 1181.5 289.1 1183.0 289.3 1184.5 289.3 1186.0 287.3 1187.5 289.8 1189.0 287.7 1190.5 287.7 1192.0 286.7 1193.5 289.1 1195.0 285.9 1196.5 286.6 1198.0 283.9 1199.5 287.6 1201.0 283.8 1202.5 287.6 1204.0 282.6 1205.5 285.9 1207.0 283.3 1208.5 286.3 1210.0 286.1 1211.5 282.3 1213.0 284.4 1214.5 281.0 1216.0 283.1 1217.5 282.2 1219.0 283.9 1220.5 279.9 1222.0 284.4 1223.5 281.0 1225.0 282.8 1226.5 279.5 1228.0 282.3 1229.5 279.7 1231.0 281.0 1232.5 277.7 1234.0 281.7 1235.5 278.1 1237.0 279.7 1238.5 277.5 1240.0 281.1 1241.5 276.8 1243.0 279.6 1244.5 278.1 1246.0 276.7 1247.5 279.3 1249.0 279.3 1250.5 275.8 1252.0 275.3 1253.5 273.4 1255.0 276.5 1256.5 276.9 1258.0 272.7 1259.5 277.3 1261.0 274.0 1262.5 274.3 1264.0 275.5 1265.5 275.2 1267.0 274.3 1268.5 273.8 1270.0 271.4 1271.5 273.3 1273.0 270.6 1274.5 270.1 1276.0 270.6 1277.5 271.5 1279.0 268.6 1280.5 272.2 1282.0 269.3 1283.5 267.6 1285.0 271.7 1286.5 271.6 1288.0 267.2 1289.5 269.1 1291.0 266.3 1292.5 268.0 1294.0 266.4 1295.5 267.5 1297.0 266.5 1298.5 268.6 1300.0 266.8 1301.5 263.7 1303.0 267.8 1304.5 263.6 1306.0 263.6 1307.5 266.6 1309.0 263.4 1310.5 263.1 1312.0 265.5 1313.5 263.3 1315.0 265.3 1316.5 261.5 1318.0 264.3 1319.5 262.1 1321.0 262.7 1322.5 259.7 1324.0 263.3 1325.5 261.4 1327.0 262.1 1328.5 259.7 1330.0 258.0 1331.5 261.2 1333.0 261.3 1334.5 259.6 1336.0 261.7 1337.5 261.6 1339.0 256.9 1340.5 260.5 1342.0 255.9 1343.5 258.5 1345.0 260.0 1346.5 255.9 1348.0 257.7 1349.5 255.1 1351.0 256.3 1352.5 256.1 1354.0 258.5 1355.5 254.1 1357.0 256.1 1358.5 255.7 1360.0 254.3 1361.5 255.9 1363.0 257.1 1364.5 255.0 1366.0 251.4 1367.5 255.4 1369.0 252.1 1370.5 255.7 1372.0 251.2 1373.5 253.0 1375.0 251.3 1376.5 254.2 1378.0 250.1 1379.5 249.2 1381.0 254.0 1382.5 250.0 1384.0 248.7 1385.5 252.4 1387.0 248.0 1388.5 250.9 1390.0 249.0 1391.5 251.7 1393.0 251.6 1394.5 246.2 1396.0 248.2 1397.5 250.6 1399.0 246.4 1400.5 250.0 1402.0 248.0 1403.5 249.0 1405.0 246.4 1406.5 248.2 1408.0 249.2 1409.5 248.8 1411.0 244.2 1412.5 248.3 1414.0 244.0 1415.5 245.7 1417.0 243.3 1418.5 245.0 1420.0 242.0 1421.5 244.8 1423.0 243.8 1424.5 245.5 1426.0 241.5 1427.5 245.4 1429.0 240.2 1430.5 242.0 1432.0 243.1 1433.5 240.3 1435.0 239.3 1436.5 243.5 1438.0 243.6 1439.5 238.7 1441.0 243.2 1442.5 241.6 1444.0 238.3 1445.5 241.5 1447.0 242.0 1448.5 239.9 1450.0 237.2 1451.5 239.6 1453.0 237.9 1454.5 240.6 1456.0 237.9 1457.5 240.7 1459.0 237.4 1460.5 235.4 1462.0 237.5 1463.5 237.1 1465.0 239.4 1466.5 236.3 1468.0 238.1 1469.5 236.7 1471.0 238.7 1472.5 234.0 1474.0 237.7 1475.5 235.9 1477.0 234.6 1478.5 235.7 1480.0 233.2 1481.5 235.0 1483.0 235.6 1484.5 231.2 1486.0 234.4 1487.5 233.0 1489.0 233.1 1490.5 232.4 1492.0 232.2 1493.5 231.4 1495.0 232.9 1496.5 230.0 1498.0 233.6 1499.5 229.3 1501.0 233.1 1502.5 233.1 1504.0 228.6 1505.5 230.4 1507.0 229.8 1508.5 230.3 1510.0 228.7 1511.5 232.0 1513.0 231.5 1514.5 230.3 1516.0 226.1 1517.5 229.9 1519.0 226.7 1520.5 225.5 1522.0 228.5 1523.5 224.6 1525.0 225.3 1526.5 228.0 1528.0 226.3 1529.5 229.1 1531.0 225.6 1532.5 226.4 1534.0 224.2 1535.5 226.9 1537.0 222.6 1538.5 222.9 1540.0 226.2 1541.5 226.0 1543.0 223.6 1544.5 224.5 1546.0 221.5 1547.5 224.2 1549.0 220.6 1550.5 220.4 1552.0 224.3 1553.5 221.3 1555.0 222.9 1556.5 220.5 1558.0 219.6 1559.5 223.6 1561.0 218.4 1562.5 223.3 1564.0 218.9 1565.5 222.9 1567.0 218.9 1568.5 223.2 1570.0 219.0 1571.5 221.5 1573.0 220.3 1574.5 217.0 1576.0 217.2 1577.5 221.3 1579.0 218.4 1580.5 219.7 1582.0 215.5 1583.5 216.5 1585.0 219.5 1586.5 218.8 1588.0 214.7 1589.5 217.7 1591.0 214.0 1592.5 216.2 1594.0 219.1 1595.5 214.0 1597.0 216.4 1598.5 213.8 1600.0 216.5 1601.5 212.3 1603.0 217.3 1604.5 213.9 1606.0 215.1 1607.5 211.8 1609.0 212.9 1610.5 216.1 1612.0 211.4 1613.5 216.4 1615.0 213.8 1616.5 210.2 1618.0 214.0 1619.5 210.7 1621.0 214.4 1622.5 211.3 1624.0 213.9 1625.5 210.0 1627.0 214.3 1628.5 210.0 1630.0 214.4 1631.5 208.0 1633.0 210.3 1634.5 212.6 1636.0 209.5 1637.5 212.0 1639.0 209.2 1640.5 211.7 1642.0 208.6 1643.5 211.4 1645.0 208.1 1646.5 210.7 1648.0 206.8 1649.5 207.5 1651.0 209.4 1652.5 207.1 1654.0 210.9 1655.5 205.1 1657.0 205.9 1658.5 204.4 1660.0 207.8 1661.5 203.9 1663.0 207.6 1664.5 203.7 1666.0 207.0 1667.5 205.1 1669.0 202.8 1670.5 202.5 1672.0 206.5 1673.5 202.6 1675.0 204.2 1676.5 202.3 1678.0 205.0 1679.5 202.4 1681.0 206.1 1682.5 202.4 1684.0 202.6 1685.5 204.2 1687.0 202.6 1688.5 202.3 1690.0 205.7 1691.5 200.2 1693.0 202.9 1694.5 204.6 1696.0 198.6 1697.5 202.6 1699.0 200.9 1700.5 203.6 1702.0 199.1 1703.5 202.7 1705.0 199.5 1706.5 201.1 1708.0 197.7 1709.5 198.2 1711.0 203.0 1712.5 198.0 1714.0 201.3 1715.5 197.8 1717.0 197.0 1718.5 202.1 1720.0 197.1 1721.5 200.3 1723.0 199.6 1724.5 195.1 1726.0 197.5 1727.5 200.2 1729.0 195.4 1730.5 199.7 1732.0 196.2 1733.5 196.7 1735.0 198.7 1736.5 194.1 1738.0 199.5 1739.5 199.7 1741.0 195.5 1742.5 196.8 1744.0 193.2 1745.5 198.2 1747.0 192.7 1748.5 193.7 1750.0 197.1 1751.5 191.5 1753.0 197.6 1754.5 193.0 1756.0 195.2 1757.5 197.1 1759.0 193.5 1760.5 195.8 1762.0 191.4 1763.5 195.7 1765.0 191.4 1766.5 196.8 1768.0 190.1 1769.5 194.7 1771.0 191.6 1772.5 195.1 1774.0 190.9 1775.5 193.8 1777.0 194.0 1778.5 192.7 1780.0 192.4 1781.5 190.8 1783.0 193.3 1784.5 188.4 1786.0 193.8 1787.5 187.8 1789.0 188.7 1790.5 193.6 1792.0 189.6 1793.5 190.6 1795.0 187.7 1796.5 192.4 1798.0 187.0 1799.5 186.2 1801.0 189.8 1802.5 185.8 1804.0 187.8 1805.5 192.1 1807.0 186.8 1808.5 189.6 1810.0 190.2 1811.5 185.7 1813.0 185.6 1814.5 189.6 1816.0 189.2 1817.5 184.8 1819.0 189.0 1820.5 185.5 1822.0 187.8 1823.5 188.3 1825.0 184.8 1826.5 188.7 1828.0 183.7 1829.5 187.3 1831.0 184.5 1832.5 188.3 1834.0 182.8 1835.5 187.8 1837.0 181.1 1838.5 182.2 1840.0 187.8 1841.5 181.6 1843.0 184.6 1844.5 180.2 1846.0 186.1 1847.5 181.8 1849.0 180.1 1850.5 186.4 1852.0 181.6 1853.5 181.6 1855.0 183.2 1856.5 178.7 1858.0 178.7 1859.5 183.6 1861.0 178.7 1862.5 182.8 1864.0 177.4 1865.5 181.0 1867.0 177.8 1868.5 180.9 1870.0 177.0 1871.5 181.3 1873.0 177.3 1874.5 181.8 1876.0 176.4 1877.5 182.0 1879.0 175.1 1880.5 175.0 1882.0 181.9 1883.5 179.5 1885.0 174.0 1886.5 181.8 1888.0 175.3 1889.5 180.2 1891.0 175.8 1892.5 179.3 1894.0 175.0 1895.5 177.1 1897.0 175.8 1898.5 176.6 1900.0 174.9 1901.5 177.9 1903.0 173.2 1904.5 179.1 1906.0 174.4 1907.5 177.1 1909.0 172.6 1910.5 176.8 1912.0 175.2 1913.5 174.7 1915.0 171.0 1916.5 175.5 1918.0 172.7 1919.5 177.1 1921.0 174.5 1922.5 169.6 1924.0 175.0 1925.5 169.8 1927.0 170.7 1928.5 169.3 1930.0 167.9 1931.5 168.8 1933.0 175.5 1934.5 167.2 1936.0 169.7 1937.5 170.1 1939.0 173.1 1940.5 167.8 1942.0 169.0 1943.5 172.3 1945.0 165.6 1946.5 170.7 1948.0 165.4 1949.5 173.4 1951.0 168.3 1952.5 171.5 1954.0 167.5 1955.5 166.5 1957.0 171.3 1958.5 172.0 1960.0 166.6 1961.5 170.3 1963.0 168.9 1964.5 163.9 1966.0 169.9 1967.5 164.6 1969.0 169.0 1970.5 162.4 1972.0 165.4 1973.5 167.8 1975.0 162.6 1976.5 169.0 1978.0 161.3 1979.5 169.5 1981.0 163.0 1982.5 161.6 1984.0 165.6 1985.5 163.6 1987.0 166.8 1988.5 160.0 1990.0 165.0 1991.5 162.6 1993.0 167.7 1994.5 160.8 1996.0 167.3 1997.5 158.6 1999.0 165.6 2000.5 160.5 2002.0 163.8 2003.5 159.9 2005.0 158.6 2006.5 162.8 2008.0 159.9 2009.5 163.8 2011.0 158.7 2012.5 162.1 2014.0 158.1 2015.5 162.6 2017.0 157.7 2018.5 155.4 2020.0 163.2 2021.5 163.5 2023.0 157.6 2024.5 161.0 2026.0 154.6 2027.5 161.2 2029.0 154.6 2030.5 162.1 2032.0 157.0 2033.5 160.8 2035.0 153.5 2036.5 158.7 2038.0 156.5 2039.5 161.1 2041.0 153.8 2042.5 158.1 2044.0 152.8 2045.5 159.1 2047.0 153.5 2048.5 158.9 2050.0 158.2 2051.5 152.7 2053.0 159.7 2054.5 151.5 2056.0 157.5 2057.5 150.4 2059.0 159.6 2060.5 150.1 2062.0 155.5 2063.5 151.0 2065.0 158.5 2066.5 150.2 2068.0 155.3 2069.5 152.7 2071.0 157.7 2072.5 150.8" stroke="#ff7f00"/>
</g>
<g style="font-family:'Liberation Sans',Arial,Helvetica,sans-serif;font-weight:bold;font-size:58px" fill="#000" stroke="#000" stroke-width="0.8">
<text x="0" y="0" transform="translate(204.5 1435.6) scale(0.97 1.045)" text-anchor="end">0</text>
<text x="0" y="0" transform="translate(204.5 1093.4) scale(0.97 1.045)" text-anchor="end">20</text>
<text x="0" y="0" transform="translate(204.5 751.2) scale(0.97 1.045)" text-anchor="end">40</text>
<text x="0" y="0" transform="translate(204.5 409.0) scale(0.97 1.045)" text-anchor="end">60</text>
<text x="0" y="0" transform="translate(204.5 66.8) scale(0.97 1.045)" text-anchor="end">80</text>
<text x="0" y="0" transform="translate(263.8 1492.3) scale(1 1.045)" text-anchor="middle">200</text>
<text x="0" y="0" transform="translate(867.3 1492.3) scale(1 1.045)" text-anchor="middle">400</text>
<text x="0" y="0" transform="translate(1470.9 1492.3) scale(1 1.045)" text-anchor="middle">600</text>
<text x="0" y="0" transform="translate(2074.4 1492.3) scale(1 1.045)" text-anchor="middle">800</text>
</g>
<g style="font-family:'Liberation Sans',Arial,Helvetica,sans-serif;font-weight:bold;font-size:71px" fill="#000">
<line x1="1607" y1="896.0" x2="1756" y2="896.0" stroke="#ff7f00" stroke-width="7" stroke-linecap="round"/>
<text x="0" y="0" transform="translate(1775.5 920.0) scale(1 1.03)">0 sccm</text>
<line x1="1607" y1="984.8" x2="1756" y2="984.8" stroke="#008000" stroke-width="7" stroke-linecap="round"/>
<text x="0" y="0" transform="translate(1775.5 1008.8) scale(1 1.03)">2 sccm</text>
<line x1="1607" y1="1073.5" x2="1756" y2="1073.5" stroke="#9000ff" stroke-width="7" stroke-linecap="round"/>
<text x="0" y="0" transform="translate(1775.5 1097.5) scale(1 1.03)">4 sccm</text>
<line x1="1607" y1="1162.2" x2="1756" y2="1162.2" stroke="#0000ff" stroke-width="7" stroke-linecap="round"/>
<text x="0" y="0" transform="translate(1775.5 1186.2) scale(1 1.03)">6 sccm</text>
<line x1="1607" y1="1251.0" x2="1756" y2="1251.0" stroke="#ff0000" stroke-width="7" stroke-linecap="round"/>
<text x="0" y="0" transform="translate(1775.5 1275.0) scale(1 1.03)">8 sccm</text>
<line x1="1607" y1="1339.8" x2="1756" y2="1339.8" stroke="#000000" stroke-width="7" stroke-linecap="round"/>
<text x="0" y="0" transform="translate(1775.5 1363.8) scale(1 1.03)">10 sccm</text>
<text x="0" y="0" transform="translate(2067 122.6) scale(1 1.03)" text-anchor="end" style="font-size:70.5px">as-fabricated</text>
<text x="0" y="0" transform="translate(1155.5 1610.3) scale(1 1.04)" text-anchor="middle">Wavelength (nm)</text>
<text transform="translate(83 780) rotate(-90) scale(1 1.04)" text-anchor="middle">Transmittance (%)</text>
</g>
</svg>
</body></html>
